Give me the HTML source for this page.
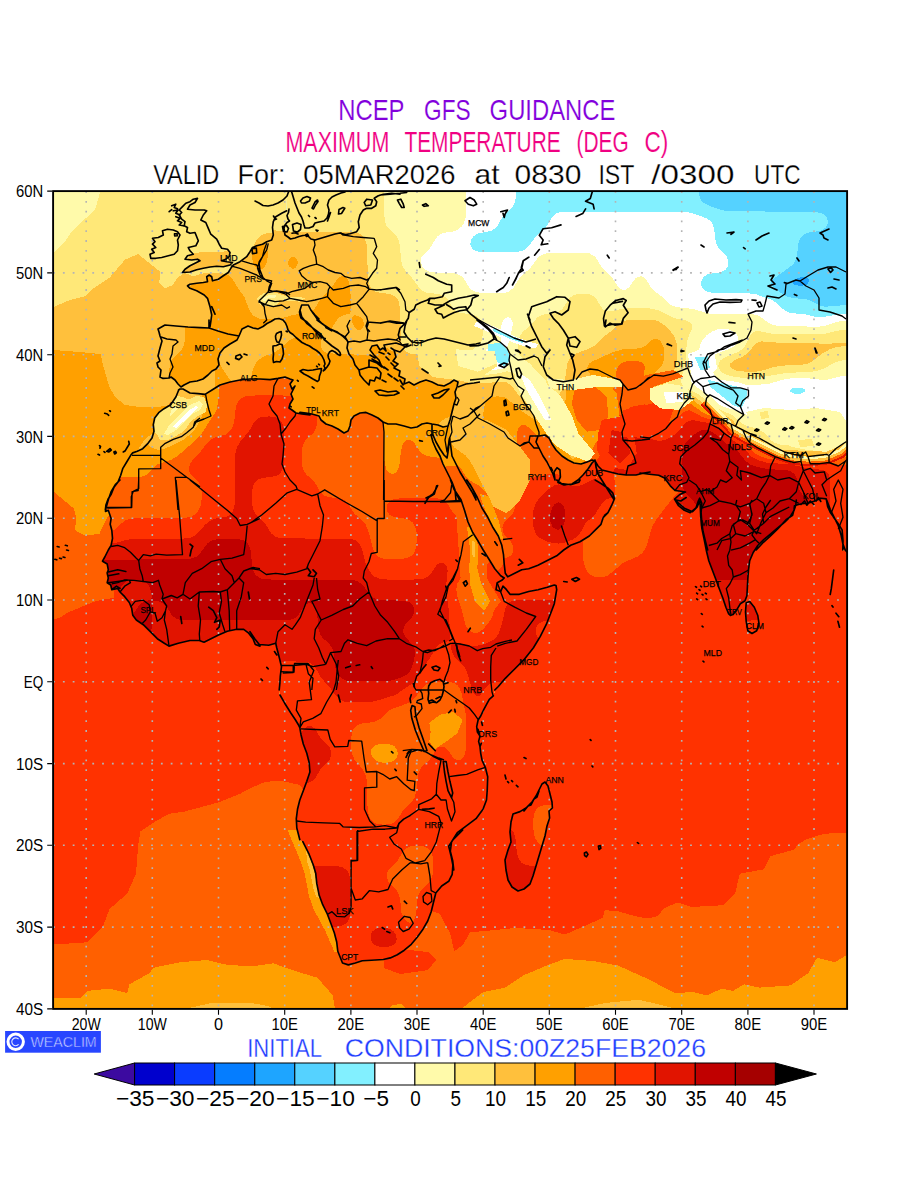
<!DOCTYPE html>
<html lang="en"><head><meta charset="utf-8"><title>NCEP GFS GUIDANCE - Maximum Temperature</title>
<style>
html,body{margin:0;padding:0;background:#fff;}
body{width:900px;height:1200px;overflow:hidden;font-family:"Liberation Sans",sans-serif;}
svg{display:block}
text{font-family:"Liberation Sans",sans-serif;}
.ax{font-size:17.2px;fill:#000}
.cb{font-size:22.4px;fill:#000}
.t1{font-size:29.2px;stroke:#fff;stroke-width:0.15px;paint-order:fill stroke}
.t2{font-size:27.8px;stroke:#fff;stroke-width:0.25px;paint-order:fill stroke}
.t3{font-size:26.4px;stroke:#fff;stroke-width:0.3px;paint-order:fill stroke}
.wc{font-size:15.4px;stroke:#2846ff;stroke-width:0.55px;paint-order:fill stroke}
.st{font-size:9.9px;fill:#000;stroke:#000;stroke-width:0.25px}
</style></head><body>
<svg width="900" height="1200" viewBox="0 0 900 1200">
<defs><clipPath id="mapclip"><rect x="53.1" y="191.1" width="794.0" height="817.8"/></clipPath></defs>
<g clip-path="url(#mapclip)" shape-rendering="crispEdges">
<rect x="52.1" y="190.1" width="796.0" height="819.8" fill="#fffaaa"/>
<path fill="#ffe878" fill-rule="evenodd" d="M102.7,171.9 862.6,171.9 862.6,1028.1 37.6,1028.1 37.6,252.4 52.1,251.8 58.3,250.3 61.8,248.6 68.0,243.5 81.1,228.2 95.0,210.3 99.3,202.6 101.9,192.4Z"/>
<path fill="#ffc03c" fill-rule="evenodd" d="M400.5,171.9 862.6,171.9 862.6,1028.1 37.6,1028.1 37.6,313.7 52.1,313.1 60.3,310.7 65.5,307.4 76.9,297.4 81.0,295.2 91.4,291.4 95.5,289.2 101.7,283.8 122.4,260.0 127.4,256.3 132.7,254.5 136.8,254.3 141.0,255.3 146.1,258.8 149.5,263.9 154.2,279.3 157.5,285.7 159.6,287.9 163.7,290.5 169.9,291.5 174.1,290.8 178.2,289.0 193.1,276.7 196.8,275.0 203.0,273.4 213.3,272.7 221.6,273.2 227.8,275.0 240.2,280.8 244.4,280.8 246.7,279.3 249.4,274.2 250.6,269.0 252.5,251.2 254.7,243.1 256.8,239.6 258.8,237.3 263.0,234.5 267.1,233.1 273.3,232.3 279.5,232.3 285.7,233.0 289.9,234.1 296.1,237.6 308.5,248.3 314.7,251.0 320.9,252.0 327.1,252.2 333.3,251.8 339.5,250.3 345.7,246.9 354.0,239.2 358.5,235.8 362.2,233.9 372.6,230.1 376.7,227.9 382.3,223.0 390.8,212.8 395.9,205.2 398.7,197.5 400.1,187.3ZM165.8,342.7 165.4,345.7 167.9,347.4 169.9,347.3 172.1,345.7 172.1,343.2 169.9,341.5 167.9,341.5Z"/>
<path fill="#ffa000" fill-rule="evenodd" d="M548.2,171.9 862.6,171.9 862.6,1028.1 37.6,1028.1 37.6,354.7 83.1,355.1 89.3,356.4 93.4,358.3 95.5,359.9 97.6,362.2 99.9,366.2 104.5,381.5 106.9,386.6 108.8,389.2 114.1,393.3 124.4,397.4 130.6,401.1 143.0,412.9 154.0,419.8 156.6,422.4 157.5,424.2 157.8,427.5 156.7,430.1 154.1,432.6 145.1,438.7 141.4,442.8 138.8,447.9 137.6,453.1 137.5,460.7 139.3,468.4 141.9,473.5 147.6,481.2 154.1,488.8 159.6,493.9 167.1,499.1 176.1,503.3 182.3,504.9 192.7,505.6 205.1,505.2 213.3,503.6 217.4,501.6 219.7,499.1 220.4,496.5 220.2,493.9 216.9,486.3 206.5,470.9 204.4,465.8 203.2,460.7 202.0,445.4 202.1,396.8 202.6,378.9 204.4,355.9 204.2,335.5 204.8,327.8 206.3,322.7 208.9,317.6 215.4,309.7 219.6,306.6 223.7,305.4 225.8,305.8 227.8,307.0 229.9,309.4 231.3,312.5 232.1,317.6 231.5,322.7 229.7,327.8 222.0,340.6 219.8,345.7 218.5,350.8 218.5,358.5 219.9,363.6 222.3,368.7 231.3,381.5 234.0,386.6 238.2,397.2 240.2,400.5 242.3,402.0 244.4,402.0 246.4,400.1 248.0,396.8 252.5,371.3 254.3,366.2 256.8,362.0 258.8,359.8 263.0,356.9 273.3,352.8 277.4,350.6 289.9,339.9 296.1,336.7 302.3,335.9 308.5,337.4 313.5,340.6 325.0,350.5 329.1,352.5 335.3,354.0 345.7,354.4 354.0,353.2 360.2,350.7 370.5,343.9 374.6,342.6 376.7,342.6 380.8,343.9 391.2,350.7 395.3,352.6 399.4,353.7 411.8,354.4 418.1,353.7 422.2,352.5 426.3,350.5 430.5,347.2 444.9,330.5 496.6,266.7 529.7,224.4 542.0,205.2 545.6,197.5 547.7,187.3ZM449.1,417.2 444.9,418.6 440.8,421.5 438.7,424.0 437.0,427.5 435.9,432.6 436.4,437.7 438.7,442.4 440.8,444.3 444.9,446.4 449.1,447.3 455.3,447.9 461.5,447.7 469.7,445.6 473.9,442.9 476.5,440.3 481.3,432.6 482.9,427.5 482.9,424.9 482.2,422.4 480.1,419.8 475.9,417.6 469.7,416.5 457.3,416.2Z"/>
<path fill="#ff6000" fill-rule="evenodd" d="M567.0,171.9 862.6,171.9 862.6,968.0 823.3,968.1 813.0,969.0 808.8,970.1 804.7,972.2 792.3,982.9 786.1,986.3 777.8,988.0 763.4,988.4 678.6,988.4 666.2,987.8 660.0,986.3 655.8,984.3 643.4,973.6 639.3,971.0 635.2,969.5 629.0,968.4 550.4,968.0 533.8,968.7 527.6,970.2 523.5,972.2 511.1,982.9 504.9,986.3 498.7,987.8 482.1,989.6 478.0,991.0 473.9,993.7 471.8,996.0 469.7,999.6 468.0,1005.1 467.0,1012.7 466.7,1028.1 334.3,1028.1 334.0,1012.7 333.1,1005.1 331.2,998.1 328.3,992.3 318.8,980.0 312.6,973.7 306.4,970.2 298.1,968.4 275.4,968.0 184.4,968.0 172.0,968.4 165.8,969.5 161.7,971.0 157.5,973.6 145.1,984.3 141.0,986.3 134.8,987.8 122.4,988.4 37.6,988.5 37.6,497.8 47.9,498.1 54.1,498.9 58.3,500.3 62.4,503.0 64.5,505.3 66.8,509.3 71.5,524.6 73.9,529.7 76.0,532.3 78.9,534.6 83.1,535.9 87.2,535.6 91.4,533.4 95.5,528.6 101.5,519.5 105.8,515.2 112.0,511.9 118.2,510.4 128.6,509.8 143.0,510.3 155.5,512.2 178.2,517.3 186.5,518.0 200.9,518.2 215.4,517.8 224.4,516.9 232.0,515.3 246.4,511.1 252.6,510.1 277.4,509.7 287.8,510.6 296.1,513.3 300.2,516.0 312.6,526.7 329.1,533.7 333.3,536.4 342.9,545.1 347.7,547.8 351.9,548.9 358.1,548.7 362.4,547.6 367.4,545.1 372.6,541.1 378.7,534.8 420.1,483.6 430.0,473.5 436.7,469.1 442.9,466.9 450.5,465.8 467.7,464.9 473.9,463.5 478.0,461.8 482.1,459.0 486.3,455.1 496.1,442.8 499.5,437.7 502.7,430.1 503.8,422.4 503.4,414.7 501.0,396.8 501.3,391.7 502.3,386.6 504.9,380.3 511.8,368.7 514.5,361.0 515.8,353.4 516.8,335.5 518.0,327.8 520.8,320.2 528.3,307.4 531.1,299.7 532.3,292.0 533.7,271.6 535.5,263.9 538.0,258.3 546.2,244.5 552.8,225.6 562.3,207.7 564.3,202.6 566.4,192.4ZM316.7,895.0 315.3,897.7 316.7,898.7 318.8,898.7 320.1,897.7 319.0,895.2Z"/>
<path fill="#ff3200" fill-rule="evenodd" d="M764.4,171.9 862.6,171.9 862.6,845.3 790.2,845.4 782.0,846.0 775.8,847.5 769.6,850.9 757.2,861.7 753.0,863.9 742.7,868.0 738.5,870.9 736.5,873.2 734.1,877.3 729.5,892.6 727.1,897.7 725.2,900.3 722.0,903.0 715.8,905.5 703.4,906.6 629.0,906.7 616.6,907.3 610.3,908.8 606.8,910.5 603.1,913.1 595.9,919.8 591.7,923.0 587.6,925.0 583.5,926.1 571.1,927.0 486.3,927.5 478.0,929.1 473.8,931.0 463.5,937.0 459.4,937.6 456.3,936.1 454.1,933.5 452.9,931.0 451.5,925.8 450.5,915.6 449.5,887.5 448.1,879.8 445.9,874.7 444.0,872.2 440.8,869.3 424.3,861.7 409.8,849.6 403.6,847.3 399.4,847.1 395.3,847.8 389.1,851.0 379.8,859.4 376.2,862.0 370.5,864.3 364.3,865.4 343.6,865.5 322.9,863.7 318.8,862.8 314.7,861.2 312.2,859.4 310.5,857.1 309.6,854.3 309.6,851.7 310.1,849.2 312.3,844.1 320.9,831.3 337.4,811.2 341.5,807.3 347.7,803.8 354.0,802.3 366.1,800.6 370.5,798.3 372.3,795.5 372.3,792.9 370.5,790.2 366.4,787.9 362.2,787.2 325.0,784.4 283.6,784.0 269.2,784.7 263.0,786.1 258.8,788.1 246.4,798.9 242.3,801.4 238.2,803.0 227.8,804.3 190.6,804.7 184.4,805.4 180.3,806.6 174.1,810.0 161.7,820.8 145.1,828.4 141.0,832.4 137.8,839.0 136.4,846.6 134.6,869.6 133.4,874.7 131.2,879.8 128.1,885.0 116.2,900.5 85.1,938.0 78.9,943.4 74.8,945.4 70.7,946.6 60.3,947.5 37.6,947.5 37.6,620.4 52.1,619.8 60.3,617.4 65.5,614.1 76.9,604.1 81.0,601.9 93.4,597.1 97.6,594.4 101.7,590.4 112.0,577.5 114.6,573.2 116.7,568.1 117.7,562.9 118.1,557.8 116.2,539.9 117.2,534.8 118.7,532.3 121.9,529.7 126.5,528.2 138.9,527.0 153.4,527.3 178.2,530.1 190.6,530.6 221.6,530.3 246.4,527.5 256.8,526.9 277.4,527.1 285.7,528.5 291.9,531.7 302.3,540.9 306.4,543.7 322.9,550.6 335.3,561.4 339.5,564.0 345.7,566.4 362.2,570.4 366.4,572.5 370.5,575.5 375.8,580.8 379.3,585.9 382.4,593.6 385.8,606.4 389.1,612.9 391.2,615.2 395.3,617.9 399.4,619.3 403.6,619.9 416.0,619.8 424.3,617.4 429.4,614.1 440.8,604.1 459.4,595.9 473.9,583.6 478.0,581.4 488.4,577.7 492.5,575.5 496.6,572.1 500.4,568.1 521.4,542.3 535.9,525.7 542.1,521.3 548.3,519.2 558.7,518.3 581.4,518.4 582.3,519.5 582.4,522.1 582.8,555.3 583.8,562.9 585.5,568.3 587.6,571.9 589.7,574.1 591.8,575.7 595.9,577.3 602.1,577.5 608.3,575.3 622.8,563.2 626.9,561.0 637.2,556.8 642.6,552.7 644.4,550.2 646.8,545.1 651.9,527.2 656.3,519.5 668.2,504.0 728.3,430.1 740.1,414.7 744.5,407.1 746.7,399.4 747.7,386.6 747.9,269.0 748.4,253.7 749.6,246.0 751.2,240.9 759.9,225.6 762.0,220.5 763.2,215.4 764.3,202.6ZM606.1,450.5 608.3,450.5 610.3,452.3 612.4,457.3 613.4,463.3 615.1,488.8 614.8,496.5 613.4,504.2 610.3,510.5 608.3,512.8 604.1,515.6 595.9,517.6 583.5,517.9 582.7,516.9 582.6,514.4 582.9,501.6 583.7,493.9 585.0,488.8 588.5,481.2 596.8,468.4 602.1,455.3 604.1,451.9ZM376.8,910.5 380.8,908.9 385.0,908.5 389.1,909.2 393.2,911.0 397.4,914.2 401.1,918.2 407.7,926.4 411.8,932.6 413.5,936.1 415.0,941.2 415.5,946.3 415.2,951.4 413.9,956.3 412.6,959.1 410.7,961.6 407.7,964.1 403.6,965.8 399.4,966.2 395.3,965.5 391.2,963.7 385.0,958.4 373.5,943.7 370.0,936.1 369.1,931.0 368.9,925.8 369.7,920.7 371.8,915.6 373.7,913.1Z"/>
<g><path fill="#ff3200" d="M53.0,776.0 848.0,776.0 848.0,1009.0 53.0,1009.0Z"/><path fill="#ff6000" d="M53.0,944.5 87.4,942.3 102.9,926.8 109.5,909.1 127.2,893.6 136.0,873.7 138.2,845.0 140.4,831.4 153.7,822.5 169.2,813.7 184.7,811.5 217.8,802.6 240.0,793.8 251.0,788.0 265.0,782.0 280.0,780.5 300.0,785.0 340.0,850.0 400.0,900.0 440.0,914.0 450.0,933.4 454.4,951.1 463.3,944.5 469.9,932.3 494.2,930.1 516.3,927.9 549.5,930.1 565.0,934.5 582.7,926.8 602.6,918.0 604.8,910.2 618.0,911.3 638.0,916.9 649.0,918.5 657.8,915.8 664.5,908.0 677.7,902.5 691.0,906.9 715.3,905.8 724.2,904.7 735.2,893.6 739.7,873.7 764.0,869.3 770.6,856.1 794.9,849.4 797.1,845.0 805.0,840.0 817.0,835.8 826.0,833.6 848.0,833.0 848.0,1009.0 53.0,1009.0Z"/><path fill="#ff3200" d="M384.0,953.0 400.0,949.0 428.0,952.0 436.0,960.0 428.0,970.0 400.0,974.0 384.0,968.0Z"/><path fill="#ffa000" d="M53.0,1009.0 54.2,997.6 80.7,997.6 87.4,990.9 109.5,988.7 127.2,993.1 129.4,984.3 149.3,973.2 153.7,967.7 180.2,962.2 206.8,960.0 224.5,964.4 251.0,966.5 273.1,963.3 295.2,971.0 317.3,977.7 332.8,995.4 335.0,1009.0Z"/><path fill="#ffa000" d="M461.0,1009.0 483.2,992.0 505.3,987.6 523.0,975.5 549.5,964.4 565.0,958.9 593.7,961.1 618.0,965.5 649.0,979.5 662.3,986.5 675.5,993.1 693.2,992.0 706.5,995.4 722.0,988.7 733.0,990.9 744.0,984.3 759.6,987.6 790.5,985.4 808.2,973.2 817.0,957.8 834.7,962.2 845.8,955.6 848.0,955.0 848.0,1009.0Z"/><path fill="#ffa000" d="M388.0,1009.0 392.0,1005.0 402.0,1004.0 406.0,1009.0Z"/><path fill="#ffc03c" d="M184.7,1009.0 211.2,1003.0 251.0,1003.0 268.0,1006.0 275.0,1009.0Z"/><path fill="#ffc03c" d="M578.2,1009.0 604.8,1003.0 638.0,999.8 649.0,1002.0 671.0,1007.5 675.0,1009.0Z"/><path fill="#ffe878" d="M53.0,190.0 186.0,190.0 186.0,272.0 184.7,272.9 178.0,277.3 172.5,285.1 164.8,288.4 159.2,282.9 160.3,271.8 149.3,263.0 138.2,254.1 125.0,259.6 109.9,277.3 93.3,288.4 85.2,296.1 76.8,298.3 68.6,300.6 53.0,307.2Z"/><path fill="#fffaaa" d="M53.0,190.0 100.6,190.0 95.1,209.9 85.2,218.7 71.9,231.1 65.3,241.3 58.6,247.9 53.0,253.0Z"/><path fill="#ffc03c" d="M53.0,307.2 68.6,300.6 76.8,298.3 85.2,296.1 93.3,288.4 109.9,277.3 125.0,259.6 138.2,254.1 149.3,263.0 160.3,271.8 159.2,282.9 164.8,288.4 172.5,285.1 178.0,277.3 184.7,272.9 215.0,285.0 215.0,407.0 158.1,407.1 140.0,407.0 125.0,404.9 116.0,398.0 109.5,387.2 102.9,365.0 100.6,354.0 80.0,352.0 53.0,350.0Z"/><path fill="#ffa000" d="M53.0,350.0 80.0,352.0 100.6,354.0 102.9,365.0 109.5,387.2 116.0,398.0 125.0,404.9 140.0,407.0 158.1,407.1 170.0,405.0 130.0,460.0 112.0,515.0 107.3,517.0 104.0,523.6 99.5,533.6 85.2,535.8 75.2,530.3 76.0,517.0 74.1,508.8 53.0,491.1Z"/><path fill="#ff6000" d="M53.0,491.1 74.1,508.8 76.0,517.0 75.2,530.3 85.2,535.8 99.5,533.6 104.0,523.6 107.3,517.0 114.0,517.0 114.0,598.0 107.3,598.8 96.2,601.0 85.2,605.4 74.1,609.9 63.1,614.3 53.0,614.3Z"/><path fill="#ffa000" d="M297.0,830.0 302.8,841.7 308.7,853.3 313.3,865.0 315.7,873.2 316.8,883.7 319.2,895.3 322.7,904.7 327.3,914.0 330.8,923.3 334.3,932.7 336.7,942.0 337.8,951.3 334.8,952.5 330.1,942.0 325.0,930.3 319.2,919.8 313.3,908.2 309.1,896.5 306.8,884.8 304.5,873.2 301.2,862.7 296.5,851.0 291.2,839.3 287.7,830.0Z"/><path fill="#ffc03c" d="M306.3,851.0 310.5,860.3 313.8,869.7 315.7,879.0 317.1,888.3 318.9,897.7 316.1,896.5 313.3,888.3 311.5,879.0 309.6,869.7 306.8,860.3Z"/></g>
<clipPath id="landclip"><path clip-rule="evenodd" d="M183.0,389.0 180.0,389.0 178.6,390.0 178.7,390.0 176.0,396.7 170.7,404.7 164.0,408.7 158.7,412.7 154.7,418.0 153.3,424.7 154.0,431.3 152.0,438.0 148.0,443.3 142.7,448.7 137.3,451.3 132.7,452.9 130.7,455.3 126.7,462.0 122.7,468.7 120.7,475.3 118.0,482.0 115.3,484.7 111.1,491.7 108.3,499.8 106.0,508.0 105.5,511.5 108.3,510.3 111.1,518.5 110.2,524.3 111.8,530.2 112.5,538.3 111.1,545.3 108.3,550.0 104.8,557.0 102.5,561.2 107.2,564.0 108.3,569.8 107.2,573.3 108.3,578.0 107.2,582.7 110.7,585.0 111.8,589.7 117.7,588.5 120.0,592.0 124.7,596.7 129.3,602.5 131.7,608.3 132.8,615.3 136.3,620.0 143.3,624.7 150.3,631.7 157.3,638.7 164.3,643.3 169.0,646.1 178.3,643.3 190.0,640.5 199.3,640.5 204.0,642.2 211.0,638.7 218.0,635.2 227.3,631.2 236.7,629.3 243.7,629.3 248.3,632.8 253.0,638.7 255.3,644.5 260.0,646.1 259.3,644.5 268.7,645.2 275.7,643.3 276.8,648.0 279.2,657.3 281.5,666.7 280.3,676.0 279.9,683.0 279.2,690.0 280.0,695.0 284.7,703.2 290.5,712.5 295.2,719.5 298.7,725.3 299.8,727.7 301.0,734.7 303.3,744.0 306.8,753.3 309.2,762.7 309.9,772.0 306.8,781.3 303.3,790.7 299.8,800.0 297.5,809.3 296.3,818.7 296.8,828.0 299.8,839.7 302.8,841.7 308.7,853.3 313.3,865.0 315.7,873.2 316.8,883.7 319.2,895.3 322.7,904.7 327.3,914.0 330.8,923.3 334.3,932.7 336.7,942.0 337.8,951.3 340.2,957.2 342.5,963.0 348.3,964.9 355.3,963.0 362.3,960.7 371.7,960.2 383.3,959.5 390.3,957.9 397.3,954.8 404.3,950.2 411.3,944.3 417.2,937.3 423.0,929.2 427.7,921.0 431.2,911.7 433.5,902.3 435.8,893.0 441.7,886.0 448.7,881.3 452.2,874.3 452.9,865.0 451.0,855.7 448.7,846.3 453.3,839.3 460.3,832.3 462.7,830.0 457.3,832.7 466.7,825.7 476.0,818.7 483.0,809.3 486.5,800.0 487.2,790.7 487.7,776.7 485.3,767.3 482.1,760.3 480.7,753.3 480.0,746.6 478.6,741.4 480.0,736.1 477.4,732.1 476.7,726.7 478.1,720.0 480.7,716.0 483.2,710.6 486.7,704.1 489.3,699.4 493.3,695.9 494.8,690.0 498.3,686.5 505.3,678.3 514.7,669.0 524.0,659.7 533.3,648.0 540.3,636.3 546.2,624.7 550.8,613.0 554.3,603.7 555.5,596.7 556.7,589.7 556.0,585.5 554.3,585.0 547.3,587.3 538.0,589.7 528.7,591.5 519.3,594.3 510.0,594.3 506.5,589.7 503.0,586.2 500.7,591.5 496.0,589.7 497.2,582.7 501.8,580.3 504.2,578.0 500.7,575.7 494.8,568.7 489.0,559.3 483.2,550.0 478.5,541.8 472.7,532.5 468.0,522.0 464.5,510.3 461.0,499.8 454.0,489.3 450.5,480.0 452.0,482.0 447.0,472.0 443.0,464.0 440.0,456.0 436.0,449.0 433.0,442.0 431.0,435.0 432.0,424.0 427.0,423.0 422.0,424.0 417.0,427.0 411.0,428.0 404.0,426.0 396.0,424.0 388.0,424.0 383.0,422.0 378.0,418.0 372.0,415.0 366.0,412.4 360.0,413.0 354.0,416.0 351.0,420.0 350.0,426.0 348.0,431.0 344.0,433.0 338.0,429.0 332.0,426.0 326.0,424.0 321.0,420.0 319.0,416.0 312.0,414.0 306.0,413.0 300.0,412.4 302.0,414.0 296.0,413.0 292.0,410.0 289.0,408.0 290.0,404.0 293.0,399.0 291.0,394.0 295.0,386.0 292.0,389.0 290.0,384.0 293.0,380.0 290.0,379.0 285.0,377.0 278.0,378.4 270.0,379.6 260.0,379.0 250.0,379.0 240.0,380.0 230.0,382.0 220.0,385.0 212.0,390.0 205.0,394.4 198.0,393.6 190.0,393.0ZM433.0,435.0 436.0,442.0 440.0,449.0 444.0,455.0 447.0,458.0 448.0,452.0 449.0,444.0 449.6,438.0 451.0,448.0 452.0,456.0 456.0,464.0 460.0,472.0 466.0,482.0 466.8,480.0 471.5,487.0 477.3,497.5 482.0,508.0 487.8,517.3 492.5,526.7 498.3,536.0 501.8,545.3 503.5,554.7 504.2,564.0 505.3,573.3 507.7,576.8 514.7,573.3 521.7,569.8 528.7,568.7 538.0,565.2 547.3,560.5 556.7,555.8 563.7,550.0 570.7,545.3 580.0,541.8 589.3,536.0 595.2,530.2 601.0,524.3 603.3,517.3 608.0,512.7 611.5,505.7 614.5,498.7 612.7,492.8 608.0,488.2 601.0,483.5 595.2,480.0 598.0,474.0 596.0,467.0 595.2,461.3 598.0,466.0 602.0,470.0 610.0,472.0 618.0,474.0 626.0,475.0 636.0,475.0 642.7,473.3 649.3,474.2 658.7,475.3 664.5,478.1 670.3,485.8 675.0,490.5 680.8,491.2 685.5,492.1 679.7,494.5 674.5,499.1 678.5,505.7 684.3,510.3 690.2,512.7 696.0,508.0 698.3,501.0 699.7,498.2 701.8,503.3 701.1,512.7 701.8,522.0 701.8,528.0 704.2,539.7 706.5,551.3 708.8,560.7 712.3,570.0 715.8,579.3 719.3,588.7 722.8,598.0 725.9,607.3 728.7,613.9 730.5,615.5 733.3,614.3 736.8,609.7 740.3,603.8 745.0,600.8 746.9,595.7 747.3,588.7 747.8,579.3 748.5,570.0 749.7,560.7 753.2,552.5 757.8,545.5 763.7,539.7 770.7,533.8 777.7,528.0 784.7,522.2 790.5,516.3 794.0,510.5 795.9,504.7 796.3,500.0 797.7,504.7 801.7,503.8 808.0,503.3 815.0,501.0 820.8,498.2 826.2,498.9 827.6,506.4 830.2,512.2 833.4,516.9 837.9,523.2 842.1,529.9 843.0,540.7 842.8,550.0 848.0,552.0 848.0,189.0 286.0,189.0 286.7,210.8 281.7,213.3 275.8,216.7 273.3,221.7 272.5,227.5 273.3,235.0 271.7,240.0 266.7,241.7 262.5,244.2 256.7,245.8 252.5,247.5 250.0,251.7 246.7,256.7 240.0,261.7 233.3,265.0 230.8,268.3 228.3,272.5 223.3,275.8 218.3,279.2 212.5,280.8 211.7,276.7 209.2,275.0 206.7,276.7 207.5,281.7 203.3,282.5 196.7,283.3 190.0,284.2 187.5,285.8 190.0,288.3 196.7,290.8 204.2,295.0 207.5,298.3 210.0,306.7 211.7,315.0 210.8,321.7 210.0,327.0 209.0,328.0 200.0,327.6 188.0,327.0 176.0,326.0 165.0,325.0 158.0,329.0 159.0,332.0 160.0,336.0 162.0,341.0 160.0,348.0 158.0,356.0 160.0,361.0 157.0,363.0 158.0,367.0 161.0,370.0 160.0,377.0 163.0,378.4 169.0,378.0 171.0,377.0 175.0,380.0 178.0,384.0 181.0,387.0 184.0,385.0 190.0,382.0 197.0,381.0 203.0,379.0 208.0,375.0 212.0,371.0 216.0,369.0 219.0,365.0 218.0,359.0 220.0,353.0 224.0,348.0 230.0,344.0 237.0,340.0 239.0,336.0 242.0,329.0 248.0,326.0 253.0,328.0 258.0,329.0 259.0,328.5 263.0,326.5 267.0,323.5 271.0,321.5 275.0,319.0 279.0,318.5 283.0,320.0 285.5,323.0 287.0,326.5 288.0,330.0 290.0,332.5 293.0,334.5 296.0,337.5 299.0,340.0 302.0,342.5 306.0,344.5 309.5,346.0 313.0,348.5 316.5,350.5 319.5,353.0 322.0,356.0 324.0,360.0 325.0,364.0 324.0,366.0 325.0,368.0 324.0,370.0 323.3,370.8 325.0,369.5 327.0,367.0 329.0,364.0 330.0,361.0 328.5,358.0 328.0,355.0 329.5,352.0 332.0,350.5 335.0,352.0 338.0,354.5 340.0,355.5 340.6,354.8 340.0,352.5 338.0,350.0 335.0,348.0 332.0,346.0 329.0,343.5 326.0,341.0 324.0,339.5 325.2,338.6 322.0,337.5 319.0,335.0 316.0,332.0 313.0,328.5 310.0,325.0 307.0,322.0 304.0,320.0 301.0,318.0 300.0,315.0 299.5,312.0 300.0,310.0 301.7,305.0 308.3,305.0 310.8,310.0 313.3,313.3 316.7,318.3 321.7,323.3 328.3,328.3 330.0,329.0 338.0,333.0 345.0,337.0 348.0,342.0 347.0,348.0 349.0,354.0 353.0,359.0 355.0,365.0 359.0,370.0 360.0,375.0 364.0,380.0 369.0,385.0 370.0,380.0 374.4,381.0 376.0,377.0 380.0,379.0 381.0,373.0 377.0,368.0 369.0,367.0 369.0,360.0 377.0,363.0 382.0,367.0 379.0,360.0 374.0,355.0 370.0,350.0 372.0,346.0 377.0,345.0 380.0,350.0 383.0,348.0 386.0,351.0 384.0,345.0 390.0,344.0 396.0,343.0 402.0,345.0 408.0,344.0 404.0,348.0 400.0,352.0 394.0,350.0 396.0,357.0 393.0,361.0 398.0,364.0 394.0,368.0 400.0,371.0 399.0,376.0 405.0,379.0 404.0,384.0 409.0,382.0 414.0,385.0 420.0,382.0 426.0,380.0 432.0,382.0 438.0,385.0 444.0,386.0 450.0,383.0 454.0,380.0 458.0,382.0 457.0,387.0 455.0,392.0 456.0,398.0 454.0,404.0 452.0,412.0 450.0,420.0 448.0,426.0 443.0,427.0 438.0,425.0 432.0,424.0 432.0,435.0ZM594.2,460.8 592.0,463.0 588.0,469.0 583.0,475.0 578.0,480.0 572.0,484.0 564.0,485.0 558.0,482.4 560.4,477.0 560.0,470.0 557.0,467.6 554.0,472.0 555.0,480.0 553.0,474.0 550.0,468.0 547.0,462.0 543.0,456.0 539.0,448.0 536.0,442.0 538.0,436.0 539.0,436.0 545.0,435.0 549.0,438.0 552.0,444.0 556.0,450.0 562.0,456.0 568.0,460.0 574.0,463.0 581.0,464.0 587.0,462.0 592.0,460.0ZM197.5,198.3 195.0,202.5 190.0,205.0 187.5,209.2 195.0,210.0 204.2,210.0 206.7,210.8 203.3,215.0 200.8,220.0 205.8,222.5 208.3,228.3 210.8,234.2 216.7,239.2 219.2,244.2 221.7,248.3 227.5,249.2 230.0,252.5 229.2,256.7 225.8,259.2 221.7,260.8 226.7,261.7 232.5,262.5 230.0,265.0 223.3,266.7 216.7,266.3 210.0,267.0 203.3,268.3 196.7,269.7 190.0,272.0 182.5,272.5 185.0,269.2 190.0,265.8 195.0,263.3 200.0,260.8 197.5,259.2 191.7,260.0 185.0,259.2 187.5,255.8 193.3,254.2 190.0,250.8 188.3,247.5 195.8,245.8 198.3,240.8 196.7,236.7 195.0,232.5 190.0,233.3 186.7,231.7 187.5,227.5 184.2,225.8 185.0,221.7 181.7,219.2 179.2,215.0 181.7,212.5 179.2,210.0 182.5,206.7 185.8,203.3 190.0,201.7 193.3,199.2ZM152.5,238.3 158.3,237.5 163.3,235.0 162.5,230.8 167.5,229.2 173.3,230.0 177.5,231.7 180.0,235.0 177.5,240.0 178.3,245.0 177.5,250.8 174.2,254.2 168.3,255.8 161.7,257.5 155.8,258.3 150.8,258.3 150.0,254.2 154.2,252.5 151.7,249.2 155.8,247.5 152.5,244.2 155.0,241.7ZM545.0,782.0 548.0,786.0 550.0,794.0 552.0,802.0 552.4,808.0 549.0,811.0 549.6,818.0 547.0,826.0 545.0,836.0 542.0,846.0 539.0,856.0 536.0,866.0 533.0,876.0 530.0,884.0 524.0,889.0 518.0,891.0 512.0,887.0 508.0,880.0 506.0,870.0 505.0,860.0 508.0,850.0 511.0,842.0 510.0,832.0 511.0,822.0 513.0,814.0 520.0,811.6 526.0,808.0 532.0,802.0 536.0,796.0 539.0,790.0 542.0,784.0ZM746.2,602.7 749.7,601.5 754.3,607.3 757.8,615.5 759.0,623.7 756.7,630.7 752.0,633.5 747.8,630.7 746.2,621.3 745.5,612.0Z"/></clipPath>
<g clip-path="url(#landclip)">
<rect x="52.1" y="190.1" width="796.0" height="819.8" fill="#1ea5ff"/>
<path fill="#55d2ff" fill-rule="evenodd" d="M37.6,171.9 862.6,171.9 862.6,1028.1 37.6,1028.1ZM802.6,276.5 795.4,279.3 792.5,281.8 793.4,284.4 796.4,285.4 800.6,285.8 804.7,285.3 807.1,284.4 809.0,281.8 808.8,279.3 806.8,277.1Z"/>
<path fill="#82f0ff" fill-rule="evenodd" d="M37.6,171.9 698.2,171.9 698.4,189.8 699.7,197.5 700.9,200.0 703.1,202.6 709.6,205.9 722.0,210.1 728.2,211.3 813.0,211.8 820.8,212.8 825.2,215.4 826.9,217.9 827.7,220.5 827.5,223.8 825.4,227.9 820.8,230.7 806.8,232.9 802.1,235.8 800.2,238.4 798.5,242.9 796.9,256.3 795.1,261.4 793.3,263.9 790.5,266.5 772.7,279.3 771.3,281.8 771.5,284.4 773.2,286.9 779.5,292.0 786.1,296.1 792.3,298.0 804.7,299.1 808.8,300.0 821.3,306.1 825.4,306.7 839.9,305.5 862.6,305.3 862.6,1028.1 37.6,1028.1Z"/>
<path fill="#ffffff" fill-rule="evenodd" d="M37.6,171.9 516.3,171.9 516.0,194.9 515.4,200.0 513.7,205.2 511.1,208.8 502.8,216.5 497.5,225.6 494.6,228.9 490.4,231.1 478.0,233.4 473.9,235.9 471.8,238.4 470.3,243.5 470.7,246.0 471.8,248.0 473.9,249.9 478.0,251.5 482.1,252.0 502.8,252.4 517.3,252.0 523.5,250.4 528.8,246.0 536.3,235.8 545.3,228.2 551.6,217.9 553.8,215.4 556.6,213.4 560.7,212.1 577.3,211.5 676.5,211.6 686.9,212.1 693.1,213.6 705.6,217.9 709.6,220.3 711.7,222.5 714.0,228.2 715.6,240.9 717.3,246.0 719.9,249.8 726.5,256.3 728.2,260.1 728.5,263.9 727.7,266.5 726.1,269.0 724.1,270.7 719.9,272.3 707.9,274.2 703.4,276.9 701.3,281.1 701.1,284.4 701.9,286.9 703.4,289.2 705.5,290.8 709.6,292.3 713.7,292.8 746.8,293.2 755.1,294.0 771.6,299.8 775.8,302.3 784.0,309.9 788.2,312.2 792.3,313.2 804.7,314.3 817.1,317.1 823.3,317.1 839.9,314.0 862.6,313.6 862.6,1028.1 37.6,1028.1ZM792.3,388.5 790.7,389.2 790.2,391.7 794.4,393.6 800.6,393.6 804.8,391.7 804.6,389.2 802.6,388.4 796.4,387.7Z"/>
<path fill="#fffaaa" fill-rule="evenodd" d="M37.6,171.9 466.6,171.9 466.4,212.8 465.7,217.9 463.9,223.0 461.5,226.6 457.3,230.0 453.2,231.4 442.9,233.1 438.0,235.8 435.8,238.4 430.5,247.5 422.0,256.3 420.9,258.8 420.6,261.4 422.2,266.5 424.4,269.0 428.4,271.4 434.6,272.5 453.2,273.1 459.4,274.8 463.5,278.1 469.7,288.0 471.8,290.0 475.7,292.0 482.1,293.1 498.7,293.4 504.9,292.9 509.0,291.5 513.2,288.1 520.4,276.7 529.7,268.7 538.0,257.6 540.0,255.8 544.2,253.7 552.5,252.6 583.5,252.6 589.7,253.5 594.5,256.3 596.7,258.8 602.1,267.9 611.6,276.7 618.3,286.9 620.7,289.0 622.8,289.8 624.8,289.8 626.9,289.0 629.4,286.9 635.2,278.7 638.1,276.7 641.4,276.3 643.4,277.1 645.5,278.8 650.7,286.9 653.8,290.5 662.0,296.8 670.3,304.6 676.5,307.2 693.1,308.9 705.5,312.7 711.7,314.0 724.1,314.4 748.9,314.0 755.1,314.6 759.2,316.1 769.6,323.5 774.1,325.3 779.9,326.1 819.2,326.7 825.4,325.7 835.7,322.2 839.9,321.4 862.6,320.9 862.6,375.5 841.9,375.9 827.5,379.6 823.3,380.0 806.8,378.2 790.2,378.4 784.0,379.4 769.6,383.5 757.2,385.0 738.5,384.8 730.3,383.6 724.1,382.1 717.9,378.5 713.8,373.8 711.0,368.7 710.2,366.2 710.1,361.0 711.0,358.5 712.9,355.9 715.8,353.9 730.3,348.6 735.0,345.7 737.2,343.2 738.3,340.6 738.3,338.0 736.5,334.0 732.3,330.8 728.2,329.3 722.0,328.7 717.9,329.3 711.7,331.7 706.4,335.5 702.2,340.6 700.8,343.2 699.3,348.3 698.4,358.5 697.3,363.6 692.6,373.8 691.1,378.9 691.4,381.5 693.0,384.0 695.8,386.6 711.0,396.8 719.9,405.0 724.0,407.1 734.4,409.9 746.8,414.7 765.4,415.9 772.5,417.3 775.8,419.1 777.8,421.1 784.0,430.2 788.2,432.5 790.2,432.5 792.3,431.8 794.4,430.3 800.6,421.9 802.6,420.2 804.7,419.5 806.8,419.5 808.8,420.2 811.3,422.4 816.6,430.1 819.2,432.0 821.3,432.6 825.4,432.1 833.7,429.4 839.9,428.3 862.6,428.0 862.6,1028.1 37.6,1028.1ZM490.4,358.1 484.2,361.0 485.4,363.6 489.4,363.6 493.7,361.0 494.2,358.5 492.5,357.9ZM507.0,317.4 504.9,318.4 502.8,320.6 500.7,327.8 500.8,346.7 501.1,348.3 502.8,350.6 504.9,349.9 507.0,347.3 509.0,341.0 512.8,325.3 512.8,322.7 511.1,318.9 509.0,317.5Z"/>
<path fill="#ffe878" fill-rule="evenodd" d="M37.6,171.9 383.9,171.9 384.0,210.3 384.8,220.5 386.5,225.6 388.2,228.2 396.2,235.8 398.9,240.9 400.0,246.0 401.2,261.4 402.7,266.5 404.1,269.0 413.2,279.3 418.5,286.9 422.2,290.6 426.3,292.5 438.7,294.1 442.9,295.4 447.0,298.6 452.3,307.4 455.3,310.6 459.4,312.7 471.8,314.5 475.9,315.9 478.0,317.2 480.1,319.6 481.5,322.7 482.5,327.8 482.6,335.5 481.6,340.6 480.1,343.6 478.0,345.9 474.1,348.3 463.5,352.2 459.4,354.5 457.4,355.9 455.4,358.5 454.7,361.0 455.1,363.6 456.6,366.2 459.2,368.7 463.5,371.3 471.8,374.0 480.1,374.8 492.5,374.4 507.0,371.4 511.1,371.7 513.2,372.4 517.3,375.9 522.3,384.0 525.6,388.1 531.8,393.4 538.0,400.1 540.0,401.3 542.1,401.1 544.2,398.8 546.5,391.7 547.1,386.6 546.3,381.5 544.2,378.2 536.5,371.3 529.9,363.6 523.5,359.3 520.2,355.9 518.8,353.4 517.6,348.3 517.7,343.2 519.0,338.0 521.4,333.7 523.5,331.3 530.5,325.3 538.0,316.8 542.1,314.8 554.5,313.2 558.7,311.9 562.8,308.5 569.0,298.6 573.1,295.2 579.3,293.7 587.6,293.9 591.7,295.2 594.5,297.2 596.7,299.7 602.1,308.3 604.1,310.1 606.2,311.0 610.3,311.2 620.7,309.1 629.0,308.3 641.4,308.0 651.7,308.6 660.0,310.9 672.4,317.4 676.5,318.7 685.0,320.2 690.8,322.7 692.4,325.3 692.4,327.8 688.0,338.0 686.9,342.5 685.2,363.6 681.1,378.9 681.0,381.5 681.8,384.0 684.8,387.3 699.3,394.9 715.8,407.7 732.3,415.2 742.7,423.9 746.8,425.7 757.2,428.9 763.4,432.0 766.8,435.2 771.0,440.3 774.3,442.8 779.9,444.5 786.1,445.1 818.1,445.4 823.3,444.3 833.7,438.8 839.9,436.9 846.1,436.3 862.6,436.2 862.6,1028.1 37.6,1028.1ZM176.1,407.0 174.1,407.6 171.6,409.6 170.0,414.7 170.6,419.8 172.0,422.3 174.1,423.5 176.1,423.5 178.2,422.3 180.3,418.9 181.3,414.7 181.4,412.2 180.7,409.6 178.2,407.4ZM839.2,330.4 846.1,329.8 862.6,329.7 862.6,360.0 846.1,360.1 839.9,360.7 833.7,363.0 824.1,368.7 815.1,371.3 806.8,372.1 786.1,372.9 763.4,376.8 755.1,377.7 740.6,377.6 730.3,376.1 723.9,373.8 720.7,371.3 719.1,368.7 718.4,366.2 718.6,363.6 719.9,360.8 724.1,357.8 738.5,351.7 742.7,349.0 745.4,345.7 751.0,334.2 753.0,332.3 755.1,331.3 759.2,331.1 769.6,333.3 775.8,334.0 815.1,334.3 825.4,333.6Z"/>
<path fill="#ffc03c" fill-rule="evenodd" d="M241.4,215.4 244.4,214.9 246.4,215.6 248.5,217.0 254.5,223.0 258.8,225.4 279.5,231.4 349.8,232.1 356.0,232.6 360.2,234.0 362.2,235.3 364.3,237.8 366.5,243.5 367.3,251.2 367.7,276.7 368.4,281.8 370.2,286.9 372.6,289.9 376.7,292.2 389.1,293.9 393.2,295.3 395.3,296.7 397.4,299.1 398.9,302.3 400.2,309.9 401.0,340.6 402.1,345.7 403.2,348.3 405.1,350.8 409.8,353.6 422.2,355.2 426.3,356.5 430.5,359.5 436.1,366.2 439.4,368.7 455.3,378.3 461.5,381.0 467.7,382.5 473.9,383.2 484.2,383.0 502.8,381.8 507.0,382.5 511.1,385.4 519.4,395.9 533.2,409.6 536.5,412.2 540.0,414.0 544.2,415.1 548.3,415.5 552.5,414.6 553.6,412.2 555.0,404.5 556.6,399.4 562.4,389.2 564.5,384.0 567.2,363.6 569.0,359.7 572.4,355.9 577.3,353.0 590.0,348.3 594.6,345.7 604.1,336.4 612.2,330.4 618.6,323.8 622.8,321.3 626.8,320.2 631.0,319.8 651.7,319.6 657.9,321.0 664.5,325.3 669.8,330.4 673.9,335.5 676.5,342.7 677.2,353.4 676.5,363.6 674.9,368.7 672.4,373.3 664.6,381.5 663.9,384.0 666.1,386.6 677.8,391.7 688.9,394.3 695.1,396.8 707.5,406.8 711.9,409.6 728.8,417.3 732.0,419.8 738.5,427.1 740.6,428.5 757.2,436.5 769.6,447.5 773.7,449.1 779.9,450.0 817.1,451.0 825.4,449.9 837.8,444.6 841.9,443.6 862.6,443.1 862.6,1028.1 37.6,1028.1 37.6,313.8 114.1,313.8 124.4,313.2 128.6,311.9 131.4,309.9 133.6,307.4 138.9,298.6 143.0,295.2 149.2,293.6 169.9,292.9 174.1,291.5 176.1,290.0 178.4,286.9 180.3,282.0 184.9,263.9 187.4,258.8 190.6,255.3 194.7,253.3 198.9,252.5 223.7,251.7 227.8,250.4 230.3,248.6 232.3,246.0 234.1,240.9 235.6,225.6 236.9,220.5 238.2,217.9ZM267.1,294.3 263.0,295.6 260.9,297.5 260.1,299.7 260.3,302.3 262.1,304.8 265.0,306.2 269.2,306.7 273.3,306.3 277.4,304.5 279.2,302.3 279.5,299.7 278.2,297.2 275.4,295.3 273.3,294.6ZM558.7,419.3 557.5,419.8 556.8,422.4 557.6,424.9 559.4,427.5 562.8,430.0 566.9,431.6 571.1,432.3 573.1,431.7 575.1,430.1 575.4,427.5 573.1,424.4 569.8,422.4 562.8,419.9ZM132.7,396.6 130.6,397.4 128.4,399.4 127.5,401.9 127.5,404.5 128.6,407.4 136.8,416.8 143.4,427.5 147.2,430.3 160.1,435.2 165.8,436.0 172.0,435.9 178.2,434.5 181.8,432.6 184.7,430.1 188.4,424.9 194.1,412.2 194.6,407.1 193.9,404.5 192.7,402.6 188.7,399.4 182.3,397.0 176.1,395.9 165.8,395.6 141.0,395.7ZM756.4,343.2 759.2,341.7 761.3,341.4 775.8,342.5 806.8,342.8 825.4,343.9 841.9,342.9 862.6,342.7 862.6,346.2 844.0,346.2 835.7,347.1 829.5,349.4 823.3,352.9 810.9,362.1 808.0,363.6 804.7,364.4 786.1,365.4 777.8,366.3 771.6,367.7 761.3,370.8 755.1,371.8 740.6,371.4 736.5,370.5 732.0,368.7 729.9,366.2 730.4,363.6 733.2,361.0 742.7,356.5 746.8,353.7Z"/>
<path fill="#ffa000" fill-rule="evenodd" d="M257.5,240.9 260.9,240.8 264.9,243.5 266.4,246.0 267.6,251.2 267.5,258.8 266.3,263.9 264.9,266.5 263.0,268.3 260.9,269.2 258.8,269.2 256.8,268.3 254.9,266.5 253.5,263.9 252.3,258.8 252.2,251.2 253.0,246.0 254.7,242.8ZM289.3,258.8 291.9,256.9 294.0,256.9 296.6,258.8 297.6,261.4 297.7,263.9 296.1,267.2 294.0,268.5 291.9,268.5 289.2,266.5 288.2,263.9 288.2,261.4ZM198.3,274.2 205.1,273.2 219.6,273.2 225.8,274.1 229.9,276.1 232.8,279.3 238.2,288.6 244.4,296.9 249.2,309.9 252.6,314.9 254.7,316.6 258.8,318.5 267.1,319.5 279.5,318.8 294.0,314.7 306.4,313.2 310.5,311.9 314.7,308.6 321.8,297.2 331.2,288.5 337.4,278.8 339.5,277.1 341.5,276.4 343.6,276.4 345.7,277.4 347.7,279.5 348.8,281.8 350.1,286.9 350.8,299.7 350.5,312.5 349.8,313.6 343.6,315.3 339.2,317.6 336.8,320.2 330.4,330.4 322.6,338.0 320.9,341.9 320.6,345.7 321.4,348.3 322.9,350.7 327.1,353.3 331.2,354.2 368.4,354.7 372.6,355.2 376.7,356.6 379.3,358.5 381.2,361.0 382.3,363.6 383.5,368.7 384.8,381.5 386.7,386.6 390.6,391.7 395.3,394.4 403.6,395.5 422.2,395.0 428.4,392.5 434.6,386.4 438.3,384.0 442.1,384.0 444.9,385.5 448.0,389.2 449.5,394.3 450.0,401.9 450.3,435.2 451.5,442.8 452.8,445.4 454.8,447.9 465.6,455.4 473.6,465.8 475.9,467.2 478.0,467.2 480.1,466.0 481.7,463.3 482.4,460.7 483.1,450.5 483.3,414.7 483.7,409.6 484.8,404.5 486.3,401.4 488.4,399.1 492.5,397.1 496.6,396.4 502.8,396.7 507.0,398.4 519.4,409.5 542.1,424.5 545.2,427.5 552.5,436.6 563.0,445.4 565.2,447.9 571.1,457.9 573.1,459.0 575.2,458.1 587.8,437.7 589.9,432.6 590.4,427.5 589.7,424.1 586.8,419.8 574.0,409.6 571.9,407.1 571.1,404.5 571.3,401.9 573.1,398.6 577.3,394.6 589.7,388.4 592.2,386.6 593.9,384.0 594.2,381.5 593.5,378.9 587.9,371.3 587.2,368.7 587.6,366.0 589.2,363.6 593.2,361.0 612.4,352.4 622.8,349.4 637.2,348.5 641.4,347.7 645.6,345.7 651.7,340.0 653.8,338.8 655.8,338.6 657.9,339.2 660.0,340.6 662.0,343.2 663.9,348.3 664.5,353.4 664.2,358.5 662.7,363.6 661.1,366.2 653.8,374.3 651.7,378.5 651.0,381.5 651.4,386.6 652.4,389.2 654.3,391.7 657.9,394.5 664.1,397.0 670.3,398.7 674.4,398.9 686.9,398.2 693.1,400.0 705.5,410.0 727.0,419.8 730.0,422.4 736.4,430.1 738.5,431.6 750.2,437.7 765.4,450.1 771.6,452.7 777.8,453.6 817.1,455.0 827.5,454.1 841.9,450.7 862.6,450.3 862.6,1028.1 37.6,1028.1 37.6,375.1 70.7,375.3 76.9,376.2 81.0,378.3 83.9,381.5 88.4,389.2 91.4,392.4 95.5,394.5 105.8,396.1 110.0,398.0 113.0,401.9 118.2,414.7 120.3,417.4 128.6,425.0 134.6,435.2 136.7,437.7 141.0,441.0 153.4,448.2 157.5,449.7 163.7,449.3 182.3,440.5 192.3,432.6 196.8,426.8 200.3,419.8 203.2,412.2 204.4,407.1 204.3,401.9 202.6,396.8 200.7,394.3 196.8,391.4 192.7,389.8 177.9,386.6 173.0,384.0 171.0,381.5 169.9,378.9 169.2,373.8 169.4,368.7 170.4,363.6 172.0,360.1 174.1,357.4 181.2,350.8 183.9,345.7 185.2,338.0 185.5,312.5 186.6,302.3 191.4,281.8 192.7,279.0 194.7,276.3ZM351.9,317.6 354.0,315.3 356.0,315.4 360.2,316.9 362.2,318.7 364.0,322.7 363.9,325.3 362.2,328.7 360.2,330.0 358.1,330.1 354.8,327.8 352.5,322.7Z"/>
<path fill="#ff6000" fill-rule="evenodd" d="M243.8,355.9 248.5,355.0 256.8,354.7 283.6,354.7 291.9,355.8 296.1,358.0 298.5,361.0 300.3,366.2 301.5,376.4 302.7,381.5 303.9,384.0 306.1,386.6 310.4,389.2 322.9,393.5 329.1,395.0 368.4,395.8 372.6,396.7 376.7,398.9 378.8,400.9 381.2,404.5 383.4,412.2 384.4,460.7 385.9,468.4 387.0,470.7 389.1,472.8 391.2,473.7 393.2,473.7 395.3,472.8 397.4,470.7 399.4,465.4 401.0,450.5 402.3,445.4 403.6,442.9 405.6,440.8 407.7,439.9 409.8,439.9 411.8,440.7 413.9,442.4 420.1,451.7 424.3,455.0 428.4,456.3 442.9,458.3 453.2,462.1 457.3,464.3 461.0,468.4 465.5,476.1 467.7,478.6 471.8,481.6 480.1,486.1 486.3,492.4 490.4,494.5 493.7,493.9 496.6,491.8 503.1,481.2 510.2,473.5 513.6,468.4 515.4,463.3 516.0,458.2 516.9,432.6 518.8,427.5 521.4,425.4 523.5,425.1 525.6,425.5 529.2,427.5 532.0,430.1 542.1,440.3 551.9,453.1 562.7,465.8 566.9,469.9 569.0,471.2 573.1,472.1 577.1,470.9 579.3,469.1 581.7,465.8 585.8,458.2 593.8,446.9 595.9,441.7 597.4,435.2 598.2,427.5 597.6,419.8 595.9,414.9 591.4,407.1 591.7,404.5 594.4,401.9 608.3,394.7 611.5,391.7 614.2,386.6 616.3,371.3 618.3,366.2 620.6,363.6 622.8,362.4 629.0,360.8 637.6,361.0 641.4,362.3 643.4,363.8 644.5,366.2 644.7,368.7 643.3,381.5 644.8,389.2 649.7,396.8 653.8,400.7 657.9,403.6 666.2,408.2 670.3,409.0 674.4,408.2 681.5,404.5 684.8,403.4 688.9,403.4 691.0,404.0 703.4,413.0 720.6,419.8 725.3,422.4 728.1,424.9 734.4,432.6 738.0,435.2 747.3,440.3 758.6,450.5 765.4,454.3 773.7,456.5 808.8,458.6 823.3,458.6 844.0,457.2 862.6,457.1 862.6,1028.1 37.6,1028.1 37.6,456.9 68.6,456.9 76.9,458.0 81.0,460.1 83.1,462.1 88.4,470.9 90.6,473.5 93.4,475.4 97.6,476.7 105.8,477.3 134.8,477.3 141.0,476.8 145.1,475.5 148.2,473.5 153.4,467.7 157.5,464.5 172.0,459.4 178.2,455.5 196.8,439.1 200.5,435.2 213.9,414.7 216.6,409.6 218.2,401.9 219.4,386.6 221.1,381.5 223.7,377.8 232.0,370.1 238.2,359.9 240.2,357.8ZM378.8,744.1 374.6,745.7 373.1,746.9 371.5,749.5 371.1,752.1 371.5,754.6 372.6,757.2 374.6,759.6 378.8,762.1 385.0,763.0 391.2,762.1 395.1,759.7 396.8,757.2 397.6,754.6 397.6,752.1 396.8,749.5 395.1,746.9 393.2,745.5 389.1,744.0 385.0,743.7ZM471.8,588.3 470.4,591.1 470.0,593.6 470.5,598.7 471.8,605.4 473.1,608.9 473.9,610.7 475.9,612.3 478.0,611.6 479.4,608.9 479.9,606.4 479.4,601.3 478.0,594.6 475.9,589.3 473.9,587.7Z"/>
<path fill="#ff3200" fill-rule="evenodd" d="M243.8,396.8 248.5,395.8 256.8,395.4 281.6,395.4 289.9,396.0 294.0,397.0 308.6,401.9 312.6,404.3 314.7,406.5 316.3,409.6 317.4,414.7 317.3,422.4 316.2,427.5 313.5,432.6 305.5,440.3 303.9,442.8 302.2,447.9 301.6,460.7 302.2,465.8 303.9,470.9 306.4,474.5 314.7,482.3 320.0,491.4 322.9,494.6 325.0,495.9 329.1,497.2 341.5,498.8 345.7,501.0 347.7,503.0 354.0,513.2 362.2,520.5 365.6,524.6 368.8,532.3 373.4,550.2 376.3,555.3 378.8,557.2 382.9,558.5 387.0,558.8 401.5,558.8 407.7,557.9 411.8,555.7 413.9,553.3 416.1,547.6 416.8,539.9 416.5,532.3 415.4,527.2 412.4,522.1 407.7,519.2 393.2,516.8 389.3,514.4 387.6,511.8 386.8,509.3 386.8,506.7 387.6,504.2 389.4,501.6 393.2,499.3 401.5,498.2 422.2,497.8 434.6,497.9 440.8,498.9 444.9,501.0 447.0,503.0 453.2,513.0 457.3,516.3 461.5,517.7 473.6,519.5 477.9,522.1 479.6,524.6 480.4,527.2 479.8,532.3 478.0,535.3 471.8,541.3 469.2,545.1 467.6,550.2 466.4,562.9 465.4,568.1 463.2,573.2 457.5,583.4 456.3,588.5 457.1,596.2 461.5,608.7 465.2,624.3 468.0,629.4 471.0,631.9 473.9,633.0 475.9,633.0 479.5,631.9 484.2,628.2 491.1,619.2 492.5,616.3 493.7,611.5 493.4,603.8 488.4,589.2 485.6,575.7 485.2,570.6 486.2,565.5 488.0,562.9 490.4,561.1 494.6,559.7 507.0,557.8 511.0,555.3 512.7,552.7 513.4,550.2 512.8,545.1 511.1,542.0 504.4,534.8 502.8,531.5 502.4,527.2 503.1,524.6 504.5,522.1 511.1,515.6 513.7,511.8 515.3,506.7 517.2,491.4 519.0,486.3 520.6,483.7 523.5,480.7 527.6,478.4 540.0,476.3 550.4,473.7 556.6,473.9 566.9,477.6 571.1,478.6 577.3,478.0 581.4,476.0 584.2,473.5 591.7,464.1 598.1,458.2 601.4,453.1 603.6,445.4 606.2,426.3 608.3,420.3 610.3,418.1 612.4,417.0 620.7,415.0 624.8,412.8 628.1,409.6 633.1,403.1 635.2,401.2 637.2,400.4 639.3,400.6 641.4,401.5 645.5,405.3 649.9,412.2 654.0,422.4 655.8,425.2 657.9,426.5 660.0,426.7 662.0,426.2 672.4,420.7 676.5,418.0 684.8,411.3 688.9,410.2 691.0,410.7 701.3,416.5 715.8,421.4 722.0,424.3 725.8,427.5 732.3,435.2 744.6,442.8 754.7,453.1 759.2,455.8 765.4,458.2 773.7,459.7 790.2,460.4 806.8,462.5 827.5,463.2 841.9,465.1 862.6,465.3 862.6,1028.1 814.0,1028.1 813.8,1005.1 813.1,1000.0 811.4,994.8 808.8,991.2 800.6,983.5 793.5,971.8 786.1,965.2 783.5,961.6 781.4,954.0 780.1,938.6 777.8,932.6 775.8,929.9 768.4,923.3 761.3,911.6 751.9,902.8 744.7,891.2 736.5,883.5 734.4,880.8 732.2,874.7 730.4,856.8 728.2,850.8 726.1,848.1 718.8,841.5 711.7,829.9 702.2,821.1 696.0,810.8 693.1,807.6 688.9,805.5 684.8,804.8 668.2,804.4 554.5,804.5 544.2,805.1 540.0,806.4 538.0,807.8 535.9,810.2 534.4,813.4 533.3,818.5 533.1,823.6 533.8,833.8 535.5,839.0 538.0,842.4 546.2,849.3 553.5,856.8 564.9,864.4 567.1,867.1 571.6,874.7 575.2,878.3 579.3,879.9 591.7,881.5 595.9,883.3 600.0,887.3 604.7,895.2 608.3,898.7 612.4,900.3 624.8,901.9 629.0,903.8 633.1,907.8 637.8,915.6 641.4,919.2 645.5,920.7 657.9,922.4 662.0,924.2 666.2,928.2 670.9,936.1 674.4,939.6 678.6,941.2 691.0,942.8 695.1,944.7 699.3,948.7 704.0,956.5 707.5,960.1 711.7,961.6 722.0,962.8 726.1,964.0 730.2,966.7 732.3,969.1 737.0,977.0 740.6,980.5 744.7,982.1 757.2,983.7 761.3,985.6 763.2,987.2 766.7,992.3 768.6,1000.0 769.1,1028.1 37.6,1028.1 37.6,532.8 99.6,532.7 107.9,532.3 114.1,530.1 124.4,520.8 130.6,518.6 138.9,518.0 184.4,517.9 190.6,517.0 194.7,514.8 197.6,511.8 200.3,506.7 201.7,499.1 201.5,491.4 200.4,486.3 198.9,482.8 196.8,480.0 190.6,473.8 189.2,470.9 188.9,468.4 190.4,463.3 192.7,460.1 199.5,453.1 205.1,445.4 209.2,440.9 213.3,438.1 225.8,434.5 229.9,431.1 232.3,427.5 234.1,422.4 235.6,409.6 236.7,404.5 237.8,401.9 239.7,399.4ZM430.5,682.7 426.3,684.6 424.3,686.2 414.2,698.4 409.8,702.0 403.6,704.9 393.0,708.6 389.1,710.6 380.8,718.4 376.7,721.0 372.6,722.2 362.2,723.4 358.1,724.7 356.0,726.1 354.0,728.4 352.4,731.6 351.3,736.7 351.0,741.8 351.3,749.5 352.2,754.6 354.5,759.7 362.2,768.5 365.8,775.1 367.2,782.7 367.5,805.7 368.3,813.4 370.5,819.1 372.6,821.5 376.2,823.6 382.9,824.7 389.1,824.3 393.2,823.0 397.4,819.7 403.6,809.4 411.8,801.7 414.4,798.1 416.6,790.4 417.9,775.1 420.1,769.1 422.2,766.3 429.6,759.7 436.3,749.5 438.7,747.3 440.8,746.5 442.9,746.5 444.9,747.3 447.5,749.5 453.2,757.7 455.3,759.3 457.3,760.1 459.4,760.0 461.5,759.1 463.5,757.0 464.7,754.6 466.0,749.5 466.4,744.4 466.2,716.3 461.5,693.3 459.6,688.2 457.3,685.2 455.3,683.7 451.1,682.3 438.7,681.9ZM409.8,846.4 405.6,848.5 403.6,850.6 397.4,860.9 388.7,869.6 387.0,873.3 386.7,877.3 388.7,882.4 396.3,890.1 399.0,895.2 400.2,900.3 401.5,912.5 403.6,918.0 405.7,920.7 407.7,922.1 409.8,922.6 411.8,922.1 413.5,920.7 415.0,918.2 416.3,913.1 417.3,900.3 418.5,895.2 421.2,890.1 428.4,883.5 431.0,879.8 432.7,874.7 433.4,867.1 432.5,856.3 430.9,851.7 428.4,848.7 424.3,846.4 420.1,845.7 413.9,845.7Z"/>
<path fill="#e11400" fill-rule="evenodd" d="M260.8,417.3 269.2,416.4 273.3,416.8 277.4,418.1 279.9,419.8 281.9,422.4 283.1,424.9 284.2,430.1 284.3,460.7 283.7,465.8 281.9,470.9 279.5,474.0 275.8,476.1 263.0,477.9 258.8,479.3 256.8,480.6 254.7,483.0 253.1,486.3 251.9,491.4 251.9,504.2 254.1,511.8 256.8,515.4 265.0,523.1 271.2,533.4 275.4,536.8 281.6,538.4 345.7,538.7 351.9,539.2 354.6,539.9 358.1,542.1 360.3,545.1 362.2,550.0 365.5,562.9 369.1,570.6 372.6,574.9 374.6,576.6 380.8,579.0 387.0,579.5 413.9,579.5 424.3,578.5 428.4,576.4 430.5,574.5 436.3,565.5 438.7,563.4 440.8,562.7 442.9,562.8 444.9,563.9 447.0,567.0 447.7,570.6 446.1,585.9 446.0,591.1 449.4,614.1 449.7,639.6 449.1,640.8 440.8,643.3 436.7,646.6 430.3,657.5 424.3,665.6 417.2,677.9 411.8,683.9 395.3,695.0 374.6,701.4 366.4,702.2 349.8,702.2 343.6,701.4 339.5,699.5 335.8,695.8 329.1,686.5 321.2,677.9 315.4,667.7 313.3,665.2 309.0,662.6 304.3,661.6 285.7,661.4 277.4,662.4 273.3,664.5 271.2,666.6 265.0,676.5 260.9,679.9 256.8,681.2 244.4,682.9 240.2,685.1 237.8,688.2 235.9,693.3 234.6,708.6 232.5,716.3 229.9,719.9 221.6,727.6 214.5,739.3 205.1,748.1 198.0,759.7 190.6,766.3 188.5,769.0 186.3,775.1 185.0,790.4 182.9,798.1 180.3,801.7 172.0,809.4 165.8,819.7 163.7,821.7 159.6,823.8 145.1,826.0 140.2,828.7 138.1,831.3 132.7,840.4 123.3,849.2 116.2,860.8 106.7,869.6 99.6,881.3 90.2,890.1 83.1,901.7 73.7,910.5 67.4,920.7 64.5,923.9 60.3,926.0 56.2,926.8 37.6,927.1 37.6,544.0 107.9,543.8 116.2,542.8 126.5,539.9 132.7,538.9 184.4,538.5 190.6,537.7 194.7,535.7 198.7,532.3 205.1,524.8 209.2,521.1 215.4,518.6 225.9,516.9 229.9,514.8 232.4,511.8 234.3,506.7 235.0,501.6 235.2,458.2 235.5,453.1 236.7,447.9 240.2,441.4 248.5,432.2 254.7,421.4 256.8,419.3ZM686.4,422.4 691.0,420.3 695.1,420.5 707.5,422.8 714.1,424.9 717.9,426.8 722.4,430.1 730.3,438.6 742.7,446.7 751.0,456.3 757.2,459.9 767.5,462.8 790.2,464.3 806.8,468.2 821.3,469.7 825.2,470.9 828.1,473.5 829.4,476.1 830.4,481.2 830.2,504.2 828.4,511.8 821.3,523.8 819.5,529.7 818.9,537.4 818.8,555.3 819.0,565.5 819.7,570.6 821.3,575.7 822.8,578.3 827.5,584.2 832.8,593.6 835.7,596.9 839.9,599.1 844.0,599.9 862.6,600.2 862.6,620.2 751.0,620.5 742.7,621.0 738.5,622.3 734.4,625.7 727.3,637.1 718.8,644.7 711.7,656.4 702.2,665.2 695.1,676.8 685.7,685.6 678.6,697.3 669.1,706.1 662.0,716.7 658.9,718.8 655.8,719.2 653.8,718.2 651.8,716.3 649.6,710.8 648.8,703.5 648.4,677.9 647.1,670.3 644.4,665.2 637.2,658.6 635.2,655.9 633.1,650.5 632.3,644.7 632.5,634.5 634.6,626.8 637.2,623.2 644.2,616.6 646.3,611.5 646.5,606.4 644.1,588.5 644.0,573.2 644.9,562.9 648.1,545.1 648.6,522.1 648.1,511.8 647.0,506.7 645.9,504.2 643.9,501.6 641.4,499.7 635.2,498.1 614.5,497.8 610.3,498.2 606.2,499.5 602.1,503.0 595.0,514.4 585.5,523.3 580.6,532.3 577.3,536.4 573.1,539.3 569.0,541.2 562.8,543.1 558.7,543.6 552.5,543.1 546.2,541.2 540.0,538.0 536.7,534.8 535.1,532.3 533.5,527.2 532.9,519.5 533.2,511.8 535.1,504.2 538.0,499.8 549.2,488.8 554.5,485.3 558.7,484.4 571.1,486.2 579.3,485.7 583.5,484.2 593.8,479.0 606.2,476.5 610.3,474.3 613.4,470.9 619.6,460.7 626.9,454.1 629.5,450.5 631.2,445.4 633.4,430.1 635.2,426.0 637.2,423.9 639.3,423.5 641.4,424.7 647.4,435.2 649.7,437.7 653.8,440.1 660.0,441.0 666.2,439.6 672.4,436.4 676.5,433.0ZM511.1,601.3 515.2,600.3 521.4,600.0 597.9,600.3 606.2,601.4 610.3,604.0 611.9,606.4 612.6,608.9 612.4,612.3 610.2,616.6 606.2,619.0 597.9,620.1 546.2,620.7 541.9,621.7 538.0,624.3 536.4,626.8 535.6,629.4 535.9,633.2 537.6,637.1 546.2,645.8 553.4,657.5 562.8,666.3 569.9,677.9 579.3,686.7 586.4,698.4 594.2,706.1 595.9,709.9 596.1,713.7 595.4,716.3 593.8,718.7 591.7,720.3 589.4,721.4 585.5,722.2 575.2,722.6 548.3,722.5 544.2,722.1 540.0,720.8 535.9,717.4 528.8,706.1 519.4,697.3 513.2,687.0 509.0,683.7 504.9,682.4 498.7,682.0 491.9,683.1 488.4,684.9 486.3,686.9 480.1,695.3 478.0,696.3 475.9,695.9 473.9,693.8 471.8,688.9 468.1,675.4 465.6,669.1 463.0,665.2 455.3,658.0 453.1,654.9 451.3,649.8 450.8,644.7 451.1,643.2 452.9,642.2 455.3,642.2 469.7,645.6 475.9,645.9 484.2,644.3 492.5,640.4 496.3,637.1 498.7,633.4 501.9,624.3 504.9,610.2 506.2,606.4 507.7,603.8ZM307.3,726.5 310.5,726.1 312.6,726.9 314.7,728.6 320.9,738.3 329.5,746.9 331.5,752.1 331.2,755.9 329.5,759.7 321.7,767.4 315.5,777.6 312.6,780.8 308.5,782.9 302.3,783.9 254.7,783.8 244.8,782.7 240.2,780.0 238.2,775.8 238.0,772.5 238.7,769.9 240.4,767.4 244.8,764.8 256.8,763.2 260.9,761.8 265.0,758.4 270.4,749.5 273.3,746.3 277.4,744.2 289.9,742.5 294.0,741.2 298.1,737.9 303.9,729.1ZM505.9,828.7 509.0,828.4 511.1,829.4 513.2,831.6 514.3,833.8 515.5,839.0 517.1,854.3 518.9,859.4 521.4,862.5 523.5,863.9 527.6,865.3 542.1,867.3 555.0,872.2 558.7,875.1 564.9,885.1 569.0,889.1 573.1,891.0 585.5,892.6 589.7,894.2 593.2,897.7 597.9,905.6 602.1,909.6 606.2,911.4 618.6,913.0 622.8,914.6 626.3,918.2 631.0,926.0 635.2,930.0 639.3,931.9 651.7,933.5 655.8,935.1 659.4,938.6 664.1,946.5 668.2,950.4 672.4,952.3 684.8,953.9 688.9,955.5 692.5,959.1 697.2,966.9 701.3,970.9 705.5,972.7 717.9,974.4 722.0,976.0 725.6,979.5 730.3,987.4 734.4,991.3 738.5,993.2 751.0,994.9 755.1,996.7 757.8,1000.0 759.2,1005.1 759.6,1028.1 499.7,1028.1 499.7,989.7 498.9,979.5 497.2,974.4 495.5,971.8 488.4,965.2 486.3,962.5 484.7,959.1 483.7,954.0 483.2,941.2 483.3,864.5 484.1,856.8 486.3,850.8 488.4,848.1 495.8,841.5 502.8,830.8ZM293.4,867.1 302.3,865.8 335.3,865.9 341.5,866.9 346.2,869.6 348.1,872.2 349.3,874.7 350.4,879.8 350.8,902.8 350.0,915.6 348.2,920.7 345.7,923.8 341.5,926.0 337.4,926.8 314.7,927.4 308.5,929.0 304.3,932.4 299.0,941.2 296.1,944.4 291.9,946.5 279.5,948.1 275.4,949.5 271.2,952.8 265.0,962.8 260.9,966.1 254.7,967.7 232.0,968.3 225.8,969.9 221.6,973.2 215.4,983.2 213.3,985.3 209.8,987.2 203.0,988.3 182.3,988.8 176.1,990.4 174.1,991.8 172.0,994.2 169.8,1000.0 169.0,1007.6 168.9,1028.1 37.6,1028.1 37.6,968.0 85.1,967.9 94.0,966.7 97.6,964.8 99.6,962.8 105.8,952.8 110.0,949.5 116.2,947.9 138.9,947.3 145.1,945.7 149.2,942.3 155.5,932.4 159.6,929.0 165.8,927.4 188.5,926.8 194.7,925.2 198.9,921.9 205.1,911.9 209.2,908.6 215.4,907.0 238.2,906.4 244.4,904.8 248.5,901.4 253.8,892.6 256.8,889.4 260.9,887.3 273.3,885.7 277.4,884.3 281.6,881.0 287.8,871.0 289.9,869.0ZM377.2,928.4 382.9,927.6 387.0,928.0 391.2,929.6 393.1,931.0 395.3,933.5 396.8,938.6 396.4,941.2 394.9,943.7 390.6,946.3 382.9,947.1 376.7,946.1 372.7,943.7 370.5,939.4 370.5,935.2 372.7,931.0Z"/>
<path fill="#c00000" fill-rule="evenodd" d="M701.8,430.1 707.5,430.0 713.4,432.6 726.1,443.4 737.3,450.5 745.4,460.7 751.0,464.9 757.2,467.1 767.5,468.9 788.2,470.5 790.2,471.1 794.4,473.8 796.9,478.6 798.3,486.3 800.0,491.4 802.6,495.0 809.5,501.6 811.7,506.7 811.8,511.8 809.5,529.7 808.8,566.8 807.4,573.2 804.7,577.0 800.6,578.9 794.4,579.5 695.1,579.9 690.4,580.8 686.1,583.4 683.9,585.9 678.6,594.8 674.4,598.1 670.3,599.4 664.1,599.5 660.0,598.2 657.5,596.2 655.8,593.7 654.8,591.1 653.8,585.9 653.5,580.8 654.1,570.6 656.7,562.9 662.0,555.1 667.5,545.1 670.3,541.9 674.4,539.7 686.9,538.1 691.0,536.7 693.1,535.3 695.1,532.9 697.2,527.7 698.1,516.9 697.7,511.8 696.7,506.7 694.0,501.6 685.9,493.9 684.3,491.4 682.6,486.3 681.8,478.6 681.8,458.2 682.6,450.5 684.4,445.4 685.9,442.8 688.9,439.2 693.4,435.2 697.2,432.3ZM554.7,504.2 556.6,502.9 558.7,502.4 560.7,502.9 562.8,504.8 563.8,506.7 565.1,511.8 565.2,519.5 564.0,524.6 562.5,527.2 558.7,529.5 556.6,529.5 552.8,527.2 550.5,522.1 550.1,516.9 550.7,511.8 552.5,507.0ZM213.3,539.9 219.6,539.0 236.1,538.9 242.3,539.8 246.4,542.0 248.9,545.1 250.7,550.2 252.1,565.5 253.2,570.6 254.3,573.2 256.3,575.7 260.9,578.5 265.0,579.2 271.2,579.5 345.7,579.6 354.0,580.2 358.1,581.6 360.8,583.4 364.3,587.1 370.5,595.5 374.6,598.4 380.8,599.9 403.6,600.7 409.8,602.5 411.6,603.8 413.4,606.4 414.2,608.9 413.9,612.8 411.8,617.2 405.2,624.3 403.2,629.4 403.6,633.4 405.2,637.1 412.6,644.7 414.7,649.8 414.8,654.9 414.0,660.1 411.9,667.7 409.8,671.6 405.7,675.4 401.5,677.3 393.2,680.1 387.0,681.2 351.9,681.5 345.7,680.5 341.5,678.3 338.7,675.4 336.0,670.3 334.9,665.2 333.5,652.4 331.8,647.3 329.1,643.6 322.9,638.1 320.3,634.5 318.6,629.4 317.1,614.1 315.9,608.9 314.6,606.4 312.6,604.4 310.5,603.4 308.5,603.4 306.4,604.2 303.9,606.4 299.1,614.1 296.8,616.6 294.0,618.6 289.9,619.9 279.5,620.4 188.5,620.4 180.3,619.9 176.1,618.6 172.0,615.3 166.3,606.4 163.7,603.7 159.6,601.6 155.5,601.0 153.4,601.2 152.4,603.8 151.9,626.8 150.8,631.9 149.2,635.4 147.2,638.1 138.9,645.8 131.8,657.5 122.4,666.3 115.2,677.9 105.8,686.7 98.7,698.4 89.3,707.1 82.1,718.8 73.6,726.5 66.5,737.9 62.4,741.2 56.2,742.8 37.6,743.1 37.6,702.2 58.3,701.6 62.4,700.4 65.3,698.4 67.4,695.8 72.7,686.8 82.2,677.9 89.3,666.3 98.7,657.5 105.8,645.8 115.3,637.1 122.4,625.4 131.8,616.6 138.9,605.6 143.0,602.3 151.3,599.5 151.7,596.2 151.0,591.1 149.3,585.9 147.4,583.4 145.1,581.7 141.0,580.2 136.8,579.7 130.6,580.0 126.5,581.4 122.4,584.8 115.3,596.2 105.8,605.0 98.7,616.6 89.3,625.4 82.2,637.1 72.7,645.9 67.4,654.9 65.3,657.5 62.4,659.5 58.3,660.8 37.6,661.3 37.6,559.5 141.0,559.5 188.5,559.0 192.7,558.3 196.8,556.4 200.5,552.7 207.1,543.8 209.2,542.0Z"/>
</g>
<g clip-path="url(#landclip)"><path fill="#ffe878" d="M160.0,440.0 156.0,432.0 162.0,424.0 170.0,416.0 178.0,408.0 188.0,400.0 196.0,396.0 204.0,397.0 207.0,404.0 206.0,412.0 198.0,416.0 190.0,422.0 184.0,430.0 176.0,436.0 168.0,440.0Z"/><path fill="#fffaaa" d="M164.0,434.0 170.0,424.0 180.0,414.0 190.0,405.0 199.0,401.0 203.0,404.0 200.0,410.0 192.0,414.0 184.0,422.0 176.0,430.0 168.0,435.0Z"/><path fill="#ffffff" d="M173.0,427.0 180.0,419.0 188.0,411.0 196.0,406.0 198.0,408.0 191.0,414.0 183.0,422.0 176.0,428.0Z"/><path fill="#ffe878" d="M256.7,298.3 263.3,293.3 271.7,291.7 280.0,294.2 288.3,296.7 298.3,296.7 305.0,298.3 300.0,301.7 290.0,300.8 280.0,300.0 271.7,298.3 265.0,303.3 260.0,305.0Z"/><path fill="#fffaaa" d="M261.7,299.2 268.3,295.0 276.7,295.0 275.0,297.5 268.3,298.3 264.2,301.7Z"/><path fill="#ffffff" d="M476.0,322.0 488.0,324.0 502.0,330.0 516.0,337.0 530.0,342.0 538.0,344.0 536.0,348.0 526.0,347.0 512.0,342.0 498.0,336.0 484.0,330.0 474.0,326.0Z"/><path fill="#82f0ff" d="M494.0,328.0 510.0,335.0 524.0,341.0 522.0,343.0 508.0,338.0 493.0,331.0Z"/><path fill="#ffffff" d="M470.0,352.0 482.0,350.0 496.0,348.0 506.0,352.0 510.0,360.0 506.0,368.0 494.0,370.0 482.0,367.0 470.0,368.0Z"/><path fill="#82f0ff" d="M488.0,344.0 500.0,343.0 508.0,350.0 510.0,360.0 504.0,366.0 494.0,360.0 488.0,352.0Z"/><path fill="#ffc03c" d="M460.0,430.0 486.7,420.0 506.7,430.0 520.0,446.7 530.0,460.0 530.0,480.0 520.0,500.0 506.7,513.3 493.3,506.7 483.3,486.7 473.3,466.7 463.3,450.0Z"/><path fill="#ffa000" d="M566.7,383.3 600.0,378.3 616.7,393.3 620.0,420.0 606.7,440.0 586.7,443.3 570.0,430.0 565.0,406.7Z"/><path fill="#ff6000" d="M575.0,388.3 593.3,385.0 606.7,396.7 608.3,416.7 600.0,430.0 586.7,431.7 576.7,420.0 571.7,403.3Z"/><path fill="#fffaaa" d="M515.0,361.7 531.7,370.0 545.0,383.3 560.0,395.0 571.7,415.0 578.3,433.3 595.0,453.3 588.3,461.7 570.0,455.0 555.0,445.0 545.0,431.7 535.0,416.7 525.0,400.0 515.0,383.3Z"/><path fill="#ffffff" d="M520.0,373.3 530.0,380.0 540.0,396.7 548.3,413.3 551.7,420.0 545.0,420.0 536.7,406.7 526.7,390.0Z"/><path fill="#fffaaa" d="M546.7,378.3 570.0,380.0 593.3,375.0 620.0,380.0 623.3,386.7 600.0,386.7 573.3,390.0 550.0,388.3Z"/><path fill="#ff3200" d="M601.7,420.0 620.0,416.7 633.3,430.0 636.7,453.3 626.7,470.0 606.7,466.7 596.7,450.0 598.3,433.3Z"/><path fill="#e11400" d="M611.7,430.0 626.7,433.3 630.0,453.3 620.0,463.3 608.3,453.3Z"/><path fill="#ff6000" d="M623.3,383.3 646.7,375.0 673.3,370.0 683.3,376.7 653.3,386.7 650.0,403.3 623.3,408.3Z"/><path fill="#ff3200" d="M623.3,410.0 653.3,403.3 673.3,410.0 666.7,430.0 650.0,438.3 623.3,436.7Z"/><path fill="#fffaaa" d="M650.0,388.3 666.7,383.3 686.7,386.7 693.3,400.0 680.0,410.0 660.0,408.3 650.0,400.0Z"/><path fill="#ffffff" d="M663.3,391.7 683.3,391.7 683.3,401.7 666.7,403.3Z"/><path fill="#ffe878" d="M416.7,350.8 444.4,346.7 472.2,349.4 494.4,352.2 497.2,366.1 480.6,377.2 455.6,380.0 433.3,377.2 419.4,366.1Z"/><path fill="#fffaaa" d="M455.6,349.4 494.4,350.8 497.2,363.3 477.8,371.7 458.3,366.1Z"/><path fill="#ffffff" d="M687.8,354.0 700.7,349.3 714.7,354.0 717.0,368.0 710.0,375.0 719.3,379.7 738.0,382.0 752.0,386.7 749.7,400.7 742.7,412.3 733.3,410.0 721.7,400.7 710.0,393.7 698.3,386.7 691.3,375.0Z"/><path fill="#82f0ff" d="M694.8,357.5 707.7,356.3 710.0,368.0 700.7,370.3Z"/><path fill="#82f0ff" d="M707.7,379.7 721.7,383.2 738.0,386.7 747.3,390.2 746.2,398.3 741.5,407.7 733.3,405.3 721.7,396.0 710.0,386.7Z"/><path fill="#fffaaa" d="M746.0,412.0 764.0,408.0 790.0,410.0 816.0,408.0 840.0,412.0 848.0,424.0 848.0,440.0 840.0,446.0 826.0,452.0 808.0,450.0 792.0,447.0 778.0,440.0 764.0,432.0 752.0,422.0Z"/><path fill="#ffe878" d="M760.0,412.0 768.0,411.0 769.0,418.0 761.0,419.0Z"/><path fill="#ffe878" d="M798.0,440.0 812.0,439.0 814.0,446.0 800.0,447.0Z"/><path fill="#fffaaa" d="M707.7,398.3 717.0,407.7 728.7,419.3 735.7,427.5 749.7,435.7 766.0,443.8 780.0,450.8 794.0,455.5 808.0,456.7 824.3,455.5 838.3,449.7 846.5,442.7 848.1,444.6 840.0,451.6 839.8,451.7 839.5,451.9 839.3,452.0 825.3,457.8 825.0,457.9 824.8,458.0 824.5,458.0 808.2,459.2 808.0,459.2 807.8,459.2 793.8,458.0 793.5,457.9 793.2,457.9 779.2,453.2 778.9,453.1 748.5,437.9 748.4,437.8 734.4,429.7 734.2,429.5 734.0,429.3 733.8,429.1 726.8,421.0 705.9,400.1Z"/><path fill="#ffc03c" d="M705.9,400.1 726.8,421.0 733.8,429.1 734.0,429.3 734.2,429.5 734.4,429.7 748.4,437.8 748.5,437.9 778.9,453.1 779.2,453.2 793.2,457.9 793.5,457.9 793.8,458.0 807.8,459.2 808.0,459.2 808.2,459.2 824.5,458.0 824.8,458.0 825.0,457.9 825.3,457.8 839.3,452.0 839.5,451.9 839.8,451.7 840.0,451.6 848.1,444.6 849.8,446.5 841.6,453.5 841.2,453.8 840.7,454.1 840.3,454.3 826.3,460.1 825.7,460.3 825.2,460.4 824.7,460.5 808.4,461.7 808.0,461.7 807.6,461.6 793.6,460.5 793.0,460.4 792.4,460.2 778.4,455.6 777.8,455.3 747.4,440.1 747.1,440.0 733.1,431.8 732.7,431.5 732.3,431.2 731.9,430.8 725.0,422.7 704.1,401.9Z"/><path fill="#ff6000" d="M704.1,401.9 725.0,422.7 731.9,430.8 732.3,431.2 732.7,431.5 733.1,431.8 747.1,440.0 747.4,440.1 777.8,455.3 778.4,455.6 792.4,460.2 793.0,460.4 793.6,460.5 807.6,461.6 808.0,461.7 808.4,461.7 824.7,460.5 825.2,460.4 825.7,460.3 826.3,460.1 840.3,454.3 840.7,454.1 841.2,453.8 841.6,453.5 849.8,446.5 851.4,448.4 843.2,455.4 842.6,455.8 841.9,456.3 841.2,456.6 827.2,462.4 826.5,462.7 825.7,462.9 824.9,463.0 808.5,464.1 808.0,464.2 807.4,464.1 793.4,463.0 792.5,462.8 791.6,462.6 777.6,457.9 776.6,457.5 746.3,442.4 745.9,442.1 731.9,434.0 731.2,433.5 730.5,433.0 730.0,432.4 723.2,424.4 702.4,403.6Z"/><path fill="#e11400" d="M702.4,403.6 723.2,424.4 730.0,432.4 730.5,433.0 731.2,433.5 731.9,434.0 745.9,442.1 746.3,442.4 776.6,457.5 777.6,457.9 791.6,462.6 792.5,462.8 793.4,463.0 807.4,464.1 808.0,464.2 808.5,464.1 824.9,463.0 825.7,462.9 826.5,462.7 827.2,462.4 841.2,456.6 841.9,456.3 842.6,455.8 843.2,455.4 851.4,448.4 852.7,449.9 844.5,456.9 843.7,457.5 842.9,458.0 842.0,458.4 828.0,464.3 827.0,464.6 826.0,464.8 825.0,465.0 808.7,466.1 807.9,466.2 807.2,466.1 793.2,465.0 792.1,464.8 791.0,464.5 777.0,459.8 775.8,459.3 745.4,444.2 744.9,443.9 730.9,435.7 730.0,435.1 729.2,434.4 728.5,433.7 721.7,425.8 700.9,405.1Z"/><path fill="#ff6000" d="M456.3,515.0 479.7,517.3 486.7,550.0 486.7,578.0 500.7,601.3 486.7,620.0 468.0,610.7 461.0,585.0 458.7,550.0Z"/><path fill="#ffa000" d="M466.8,526.7 475.0,529.0 478.5,550.0 477.3,568.7 480.8,582.7 490.2,601.3 484.3,610.7 475.0,601.3 470.3,585.0 469.2,568.7 470.3,550.0Z"/><path fill="#ffc03c" d="M471.5,540.7 475.0,541.8 475.0,557.0 472.7,557.0Z"/><path fill="#ffa000" d="M479.7,494.0 489.0,496.3 498.3,519.7 503.0,538.3 498.3,540.7 491.3,524.3 484.3,508.0Z"/><path fill="#ffa000" d="M429.3,722.7 440.0,714.7 453.3,712.0 462.7,720.0 457.3,733.3 446.7,741.3 434.7,749.3 429.3,741.3 430.7,732.0Z"/></g>

</g>
<g clip-path="url(#mapclip)">
<g stroke="#b4b4b4" stroke-width="1.6" stroke-dasharray="1.8 8" fill="none"><line x1="86.2" y1="191.1" x2="86.2" y2="1008.9"/><line x1="152.3" y1="191.1" x2="152.3" y2="1008.9"/><line x1="218.5" y1="191.1" x2="218.5" y2="1008.9"/><line x1="284.7" y1="191.1" x2="284.7" y2="1008.9"/><line x1="350.9" y1="191.1" x2="350.9" y2="1008.9"/><line x1="417.0" y1="191.1" x2="417.0" y2="1008.9"/><line x1="483.2" y1="191.1" x2="483.2" y2="1008.9"/><line x1="549.3" y1="191.1" x2="549.3" y2="1008.9"/><line x1="615.5" y1="191.1" x2="615.5" y2="1008.9"/><line x1="681.7" y1="191.1" x2="681.7" y2="1008.9"/><line x1="747.9" y1="191.1" x2="747.9" y2="1008.9"/><line x1="814.0" y1="191.1" x2="814.0" y2="1008.9"/><line x1="53.1" y1="272.9" x2="847.1" y2="272.9"/><line x1="53.1" y1="354.7" x2="847.1" y2="354.7"/><line x1="53.1" y1="436.4" x2="847.1" y2="436.4"/><line x1="53.1" y1="518.2" x2="847.1" y2="518.2"/><line x1="53.1" y1="600.0" x2="847.1" y2="600.0"/><line x1="53.1" y1="681.8" x2="847.1" y2="681.8"/><line x1="53.1" y1="763.6" x2="847.1" y2="763.6"/><line x1="53.1" y1="845.3" x2="847.1" y2="845.3"/><line x1="53.1" y1="927.1" x2="847.1" y2="927.1"/></g>
<path d="M152.5,238.3 158.3,237.5 163.3,235.0 162.5,230.8 167.5,229.2 173.3,230.0 177.5,231.7 180.0,235.0 177.5,240.0 178.3,245.0 177.5,250.8 174.2,254.2 168.3,255.8 161.7,257.5 155.8,258.3 150.8,258.3 150.0,254.2 154.2,252.5 151.7,249.2 155.8,247.5 152.5,244.2 155.0,241.7ZM174.5,233.7 177.0,233.7 177.3,235.8 174.7,236.0ZM197.5,198.3 195.0,202.5 190.0,205.0 187.5,209.2 195.0,210.0 204.2,210.0 206.7,210.8 203.3,215.0 200.8,220.0 205.8,222.5 208.3,228.3 210.8,234.2 216.7,239.2 219.2,244.2 221.7,248.3 227.5,249.2 230.0,252.5 229.2,256.7 225.8,259.2 221.7,260.8 226.7,261.7 232.5,262.5 230.0,265.0 223.3,266.7 216.7,266.3 210.0,267.0 203.3,268.3 196.7,269.7 190.0,272.0 182.5,272.5 185.0,269.2 190.0,265.8 195.0,263.3 200.0,260.8 197.5,259.2 191.7,260.0 185.0,259.2 187.5,255.8 193.3,254.2 190.0,250.8 188.3,247.5 195.8,245.8 198.3,240.8 196.7,236.7 195.0,232.5 190.0,233.3 186.7,231.7 187.5,227.5 184.2,225.8 185.0,221.7 181.7,219.2 179.2,215.0 181.7,212.5 179.2,210.0 182.5,206.7 185.8,203.3 190.0,201.7 193.3,199.2ZM171.7,205.8 175.8,204.2 174.2,207.5 177.5,208.7M173.3,210.8 178.0,210.0 175.8,213.3 180.0,215.0M175.8,216.7 180.0,218.3 177.5,220.8 181.7,222.5 179.2,225.0 183.3,225.8M169.2,211.7 171.7,209.7M210.0,327.0 210.8,321.7 211.7,315.0 210.0,306.7 207.5,298.3 204.2,295.0 196.7,290.8 190.0,288.3 187.5,285.8 190.0,284.2 196.7,283.3 203.3,282.5 207.5,281.7 206.7,276.7 209.2,275.0 211.7,276.7 212.5,280.8 218.3,279.2 223.3,275.8 228.3,272.5 230.8,268.3 233.3,265.0 240.0,261.7 246.7,256.7 250.0,251.7 252.5,247.5 256.7,245.8 262.5,244.2 266.7,241.7 271.7,240.0 273.3,235.0 272.5,227.5 273.3,221.7 275.8,216.7 281.7,213.3 286.7,210.8M211.7,306.7 215.0,314.2M340.8,233.0 343.3,235.0 350.0,233.7 356.7,231.7 359.2,227.5 358.3,221.7 360.0,215.0 363.3,210.0 366.7,208.3 371.7,208.3 375.8,205.8 376.7,201.7 374.2,198.3 378.3,195.8 383.3,194.2 391.7,193.3 400.0,194.2M364.2,202.5 366.7,199.2 372.5,200.0 370.8,205.0 365.8,205.8ZM252.0,248.7 256.3,248.0 256.7,253.0 252.5,253.7ZM308.3,305.0 301.7,305.0 300.0,310.0 301.7,316.7 306.7,323.3 313.3,328.3 320.0,333.3 325.0,340.0M308.3,305.0 310.8,310.0 313.3,313.3 316.7,318.3 321.7,323.3 328.3,328.3 336.7,331.7 343.3,336.7 346.7,340.0M312.5,312.5 315.8,316.7M325.8,327.5 331.7,330.8M289.0,209.0 288.5,212.5 287.0,215.5 288.0,219.0 289.5,221.0 287.0,222.5 285.0,225.0 284.0,228.0 284.5,232.0 285.0,235.0 288.0,237.0 290.5,239.0 295.0,238.0 299.0,236.5 303.0,235.5 307.0,235.0 309.0,237.0 311.0,239.0 315.0,240.0 320.0,238.5 325.0,237.0 330.0,235.5 335.0,234.0 340.0,233.0 345.0,234.5M305.5,235.0 307.5,234.0 308.5,236.0 306.5,236.5ZM282.5,226.5 286.5,225.5 288.5,228.5 287.0,232.0 283.5,231.5ZM292.5,224.5 297.0,223.0 301.0,224.5 300.5,229.5 297.5,232.0 293.5,231.0ZM292.0,233.2 295.0,232.8 298.0,234.0M292.0,193.0 293.5,198.0 295.0,203.0 297.0,208.0 299.0,213.0 301.5,217.0 303.0,221.0 304.0,225.0 305.0,228.0 309.0,228.0 313.0,226.5 315.0,223.0 319.0,222.0 324.0,221.0 327.0,218.0 328.5,214.0 329.0,210.0 327.5,205.0 329.0,200.0 332.0,197.0 336.0,195.0 341.0,193.0 345.0,192.0M255.0,201.0 259.0,203.0 263.0,205.5 268.0,206.0 273.0,205.0 278.0,203.0 283.0,200.0 287.0,196.0 288.5,192.0 289.0,190.0M292.0,193.0 291.0,190.0M300.5,201.0 303.0,198.0 307.0,196.5 310.5,198.0 309.5,201.0 305.0,203.0 301.5,203.0ZM312.0,208.0 315.0,202.0 317.5,200.0 318.0,201.5 315.5,205.0 313.5,209.0ZM330.5,212.5 329.0,217.0 327.5,221.0M339.0,209.5 343.0,207.5 344.8,208.2 341.5,213.5 338.5,214.0ZM316.0,230.0 318.0,230.5 317.2,231.2ZM308.5,215.5 309.5,216.5M315.0,217.5 316.2,218.5M273.5,216.0 275.0,218.5 274.0,220.0 276.5,219.0M380.0,195.0 390.0,194.2 400.0,193.3 406.7,192.5M397.5,200.0 400.8,199.2 403.3,204.2 404.2,207.5 401.7,207.5 399.2,203.3ZM422.5,205.0 425.8,203.7 428.3,205.8 424.2,206.3ZM465.0,200.8 470.0,197.5 474.2,200.0 476.7,204.2 473.3,205.8 468.3,204.2ZM500.8,211.7 507.5,210.0 505.0,214.2 504.2,217.5 503.0,213.3M419.2,262.5 420.0,267.5M425.8,274.2 433.3,277.5 438.3,280.8 446.7,284.2 451.7,285.0 451.7,291.7 444.2,293.3 442.5,296.7 435.0,298.3 430.0,298.3M528.3,257.5 523.3,260.8 521.7,268.3 518.3,273.3 515.8,279.2 512.5,285.0M509.2,277.5 506.7,283.3 503.3,287.5 499.2,290.0 496.7,291.7M400.0,340.0 398.3,335.0 400.0,328.3 405.0,323.3 408.3,318.3 409.2,312.5 414.2,309.2 415.8,305.0 420.8,302.5 427.5,300.0 430.0,298.3 428.3,303.3 435.0,305.0 443.3,304.7 450.0,300.8 458.3,298.3 466.7,296.7 474.2,295.0 478.3,295.5 472.5,298.3 470.8,305.0 466.7,310.0 470.8,314.2 478.3,320.0 486.7,326.7 493.3,333.3 496.7,340.0M444.2,305.0 435.0,309.2 437.5,313.3 441.7,314.2 443.3,318.0 448.3,315.3 454.2,312.5 460.0,310.8 466.7,309.7 465.8,306.7 458.3,307.5 453.3,309.2 450.0,306.7 446.7,304.7M527.5,314.2 530.0,320.0M592.2,191.9 590.3,198.5 585.6,201.3 593.1,204.2 594.1,208.9M585.6,208.9 582.7,213.6 576.1,216.4M561.0,224.9 551.6,227.8 543.1,228.7 539.3,235.3 543.1,240.1 541.2,244.8 547.8,243.8M539.3,249.5 534.6,255.2M528.9,257.1 523.2,260.8 521.3,267.4 523.2,270.3 518.5,273.1 515.7,278.8 512.8,284.4M607.3,255.2 609.2,258.0M673.4,270.3 678.1,267.4M604.4,326.0 603.5,318.4 605.4,310.9 610.1,305.2 615.8,300.5 623.3,298.6 626.2,300.5 623.3,305.2 628.1,312.8 623.3,318.4 621.4,324.1 614.8,325.1 610.1,323.2 605.4,326.9ZM612.9,303.3 622.4,301.4M667.7,343.9 671.5,345.8M515.7,350.6 520.4,352.4M526.1,345.8 529.8,347.7M531.7,306.7 528.3,316.7 531.7,326.7 536.7,336.7 541.7,346.7 546.7,353.3 550.0,350.0 545.0,356.7 543.3,366.7 546.7,375.0 553.3,380.0 563.3,381.7 573.3,380.0 575.0,370.0 572.7,360.0 570.0,353.3 566.7,345.0 568.3,338.3 563.3,330.0 558.3,323.3 553.3,318.3 550.0,313.3 555.0,311.7 561.7,315.0 568.3,310.0 570.0,301.7 565.0,297.3 556.7,296.7 546.7,301.7 536.7,305.0ZM568.3,338.3 575.0,336.7 580.0,341.7 576.7,347.3 570.0,346.0ZM570.0,353.3 574.0,355.0 571.7,358.3M727.0,233.0 734.0,232.0 731.0,234.4M701.0,245.0 704.0,247.0M743.6,247.6 745.2,248.8M756.0,240.0 762.0,236.0 769.0,233.0M673.0,270.0 678.0,267.0 676.0,269.6M829.0,229.0 820.0,233.0 823.0,235.0 824.0,238.0 828.0,240.0M797.0,258.0 799.0,261.0M706.0,310.0 705.0,305.0 709.0,301.0 715.0,299.0 726.0,300.0 736.0,299.6 742.0,300.0 741.0,302.0 730.0,302.4 720.0,302.0 713.0,304.0 709.0,308.0 707.0,313.0ZM752.0,300.0 756.0,300.4M757.0,303.0 760.0,302.0 762.0,306.0 759.0,307.0ZM770.0,276.0 774.0,275.0 771.0,280.0 775.0,284.0 768.0,286.0 777.0,290.0M723.0,334.0 730.0,332.0 735.0,333.0 730.0,336.0 725.0,336.4ZM729.0,322.4 735.0,323.0M828.0,269.0 831.0,267.6 833.0,270.0 830.6,272.4ZM834.0,279.0 839.0,280.0M828.0,288.0 832.0,287.0 836.0,289.0M794.4,294.4 796.8,295.6M784.4,282.6 786.8,283.2M793.0,338.0 796.0,339.0M815.0,348.0 817.0,353.0M681.0,351.6 684.0,351.0M703.6,361.6 705.2,362.8M209.0,320.0 209.0,328.0 200.0,327.6 188.0,327.0 176.0,326.0 165.0,325.0 158.0,329.0 159.0,332.0 160.0,336.0 162.0,341.0 160.0,348.0 158.0,356.0 160.0,361.0 157.0,363.0 158.0,367.0 161.0,370.0 160.0,377.0 163.0,378.4 169.0,378.0 171.0,377.0 175.0,380.0 178.0,384.0 181.0,387.0 184.0,385.0 190.0,382.0 197.0,381.0 203.0,379.0 208.0,375.0 212.0,371.0 216.0,369.0 219.0,365.0 218.0,359.0 220.0,353.0 224.0,348.0 230.0,344.0 237.0,340.0 239.0,336.0 242.0,329.0 248.0,326.0 253.0,328.0 258.0,329.0M236.0,356.0 240.0,354.4 242.0,357.0 239.0,359.6 235.6,358.4ZM244.0,354.0 247.0,355.0M227.0,362.4 229.0,364.4M183.0,389.0 190.0,393.0 198.0,393.6 205.0,394.4 212.0,390.0 220.0,385.0 230.0,382.0 240.0,380.0 250.0,379.0 260.0,379.0 270.0,379.6 278.0,378.4 285.0,377.0 290.0,379.0 293.0,380.0 290.0,384.0 292.0,389.0 295.0,386.0 291.0,394.0 293.0,399.0 290.0,404.0 289.0,408.0 292.0,410.0 296.0,413.0 302.0,414.0 310.0,415.0M289.6,405.6 291.2,406.8M183.0,389.0 180.0,389.0 178.6,390.0M178.7,390.0 176.0,396.7 170.7,404.7 164.0,408.7 158.7,412.7 154.7,418.0 153.3,424.7 154.0,431.3 152.0,438.0 148.0,443.3 142.7,448.7 137.3,451.3 132.7,452.9 130.7,455.3 126.7,462.0 122.7,468.7 120.7,475.3 118.0,482.0 114.0,487.3 111.3,494.0 108.0,499.3 106.0,504.7 105.3,510.0M128.7,441.3 129.3,444.0 127.3,447.3 125.3,450.7 123.3,452.0M113.9,451.9 115.5,451.3 116.3,452.9 114.7,454.0ZM106.7,451.3 110.0,448.7 111.3,450.0 108.7,452.0ZM104.0,451.6 104.9,452.4M99.5,445.7 100.5,446.5 100.0,448.1M98.0,454.3 99.5,455.1M104.7,413.3 107.3,414.0 108.7,415.3M109.6,410.8 110.4,411.3M317.0,320.0 324.0,325.0 330.0,329.0 338.0,333.0 345.0,337.0 348.0,342.0 347.0,348.0 349.0,354.0 353.0,359.0 355.0,365.0 359.0,370.0 369.0,367.0 377.0,368.0 381.0,373.0 380.0,379.0 376.0,377.0 374.4,381.0 370.0,380.0 369.0,385.0 364.0,380.0 360.0,375.0 359.0,370.0M369.0,367.0 369.0,360.0 377.0,363.0 382.0,367.0 379.0,360.0 374.0,355.0 370.0,350.0 372.0,346.0 377.0,345.0 380.0,350.0 383.0,348.0 386.0,351.0 384.0,345.0 390.0,344.0 396.0,343.0 402.0,345.0 408.0,344.0 404.0,348.0 400.0,352.0 394.0,350.0 396.0,357.0 393.0,361.0 398.0,364.0 394.0,368.0 400.0,371.0 399.0,376.0 405.0,379.0 404.0,384.0 409.0,382.0 414.0,385.0 420.0,382.0 426.0,380.0 432.0,382.0 438.0,385.0 444.0,386.0 450.0,383.0 454.0,380.0 458.0,382.0 457.0,387.0 455.0,392.0 456.0,398.0 454.0,404.0 452.0,412.0 450.0,420.0 448.0,426.0 443.0,427.0 438.0,425.0 432.0,424.0 427.0,423.0 422.0,424.0 417.0,427.0 411.0,428.0 404.0,426.0 396.0,424.0 388.0,424.0 383.0,422.0 378.0,418.0 372.0,415.0 366.0,412.4 360.0,413.0 354.0,416.0 351.0,420.0 350.0,426.0 348.0,431.0 344.0,433.0 338.0,429.0 332.0,426.0 326.0,424.0 321.0,420.0 319.0,416.0 312.0,414.0 306.0,413.0 300.0,412.4M370.0,355.0 375.0,358.0M379.0,352.0 384.0,354.0M386.0,357.0 389.0,360.0M391.0,363.0 394.0,366.0M384.0,367.0 388.0,370.0M388.0,374.0 392.0,377.0M394.0,378.0 398.0,381.0M400.0,380.0 403.0,385.0M382.0,380.0 386.0,382.0M372.0,359.0 379.0,363.0 384.0,368.0M401.0,386.0 404.0,389.0M391.0,348.0 394.0,350.0M388.0,353.0 390.0,354.4M375.0,391.0 380.0,390.0 388.0,392.0 396.0,391.0 399.0,393.0 394.0,395.0 386.0,395.6 379.0,395.0ZM432.0,395.0 438.0,393.0 444.0,390.0 449.0,389.0 446.0,392.0 443.0,395.0 439.0,398.0 434.0,398.0ZM407.0,320.0 405.0,326.0 404.0,332.0 407.0,337.0 411.0,341.0 412.0,342.0 420.0,343.0 428.0,340.0 436.0,338.0 444.0,339.0 452.0,341.0 460.0,343.0 468.0,345.0 476.0,344.0 480.0,343.0M402.0,345.0 406.0,347.0 411.0,345.0M431.0,435.0 433.0,442.0 436.0,449.0 440.0,456.0 443.0,464.0 447.0,472.0 452.0,482.0 455.0,490.0 456.0,500.0M433.0,435.0 436.0,442.0 440.0,449.0 444.0,455.0 447.0,458.0 448.0,452.0 449.0,444.0 449.6,438.0 451.0,448.0 452.0,456.0 456.0,464.0 460.0,472.0 466.0,482.0 472.0,492.0 476.0,500.0M432.0,424.0 432.0,435.0M426.0,498.0 430.0,496.0 433.0,494.0 436.0,489.0 437.6,485.6M438.0,363.0 441.0,366.0 439.0,366.4M422.0,369.0 425.0,371.0 428.0,373.0M419.6,440.6 422.4,441.2M477.0,320.0 482.0,324.0 488.0,329.0 493.0,335.0 494.0,339.0 488.0,343.0 478.0,345.6 470.0,346.0M606.0,320.0 605.0,326.0 614.0,324.0 622.0,324.0 623.0,320.0M499.0,365.6 504.0,363.0 508.0,364.4 504.0,367.6ZM516.0,369.0 519.0,368.0 521.6,374.0 520.0,378.0 517.6,376.0ZM515.6,350.0 518.0,350.4 520.4,353.0M526.0,346.0 530.0,348.0M504.0,401.0 505.6,400.0 506.4,405.0 504.4,405.6ZM506.0,412.0 508.0,411.0 509.0,415.0 506.6,415.6ZM538.0,436.0 536.0,442.0 539.0,448.0 543.0,456.0 547.0,462.0 550.0,468.0 553.0,474.0 555.0,480.0 554.0,472.0 557.0,467.6 560.0,470.0 560.4,477.0 558.0,482.4 564.0,485.0 572.0,484.0 578.0,480.0 583.0,475.0 588.0,469.0 592.0,463.0 595.0,460.0 596.0,467.0 598.0,474.0 603.0,482.0 608.0,490.0 613.0,498.0 614.0,500.0M539.0,436.0 545.0,435.0 549.0,438.0 552.0,444.0 556.0,450.0 562.0,456.0 568.0,460.0 574.0,463.0 581.0,464.0 587.0,462.0 592.0,460.0 595.0,461.0 598.0,466.0 602.0,470.0 610.0,472.0 618.0,474.0 626.0,475.0 636.0,475.0 644.0,473.0 650.0,472.0M551.0,467.6 552.4,470.4M470.0,484.0 474.0,492.0 476.0,500.0M640.0,473.0 649.3,474.2 658.7,475.3 664.5,478.1 670.3,485.8 675.0,490.5 680.8,491.2 685.5,492.1 679.7,494.5 674.5,499.1 678.5,505.7 684.3,510.3 690.2,512.7 696.0,508.0 698.3,501.0 699.7,498.2 701.8,503.3 701.1,512.7 701.8,522.0 703.0,531.3 705.3,540.7 707.7,550.0M675.0,499.8 680.8,501.0 686.2,497.5M756.2,550.0 759.5,546.5 763.4,542.3 770.0,536.5 777.7,529.0 786.5,519.4 792.6,515.2 794.0,509.9 794.5,505.7 797.7,504.7 801.7,503.8 808.0,503.3 815.0,501.0 820.8,498.2 826.2,498.9 827.6,506.4 830.2,512.2 833.4,516.9 837.9,523.2 842.1,529.9 843.0,540.7 842.8,550.0M801.0,504.5 804.5,501.0 806.8,505.2 810.3,501.0 813.8,504.5M816.2,501.0 818.5,497.5 820.8,501.5M765.3,423.5 767.2,421.9 769.3,422.8 767.6,424.2ZM782.8,429.4 784.7,427.7 786.8,428.7 785.1,430.1ZM789.8,428.2 791.7,426.6 793.8,427.5 792.1,428.9ZM805.0,422.4 806.8,420.7 808.9,421.7 807.3,423.1ZM816.6,430.5 818.5,428.9 820.6,429.8 819.0,431.2ZM822.5,420.0 824.3,418.4 826.4,419.3 824.8,420.7ZM816.6,444.5 818.5,442.9 820.6,443.8 819.0,445.2ZM754.8,430.5 756.7,428.9 758.8,429.8 757.1,431.2ZM815.0,348.2 816.2,352.8M667.1,344.2 669.4,345.1M681.1,350.3 683.4,351.2M120.0,480.0 115.3,484.7 111.1,491.7 108.3,499.8 106.0,508.0 105.5,511.5 108.3,510.3 111.1,518.5 110.2,524.3 111.8,530.2 112.5,538.3 111.1,545.3 108.3,550.0 104.8,557.0 102.5,561.2 107.2,564.0 108.3,569.8 107.2,573.3 108.3,578.0 107.2,582.7 110.7,585.0 111.8,589.7 117.7,588.5 120.0,592.0 124.7,596.7 129.3,602.5 131.7,608.3 132.8,615.3 136.3,620.0 143.3,624.7 150.3,631.7 157.3,638.7 164.3,643.3 169.0,646.1 178.3,643.3 190.0,640.5 199.3,640.5 204.0,642.2 211.0,638.7 218.0,635.2 227.3,631.2 236.7,629.3 243.7,629.3 248.3,632.8 253.0,638.7 255.3,644.5 260.0,646.1M107.2,572.2 117.7,569.8 125.8,571.5M108.3,575.7 118.8,573.8M108.3,582.7 117.7,581.5 127.0,580.3M111.8,589.7 116.5,586.2 120.0,588.5M57.2,546.5 59.1,547.0M65.4,545.3 67.3,545.8M66.6,550.0 68.4,550.5M63.1,557.0 64.9,557.5M59.6,558.2 61.4,558.6M54.9,559.3 56.8,559.8M208.7,607.2 213.3,610.7 216.8,617.7 214.5,622.3 220.3,620.0 219.2,627.0 216.8,629.3M180.7,616.5 181.8,623.5M248.3,592.0 249.5,599.0M190.0,544.2 192.8,546.5 191.2,550.0 190.0,555.8M250.0,631.7 254.7,638.7 259.3,644.5 268.7,645.2 275.7,643.3 276.8,648.0 279.2,657.3 281.5,666.7 280.3,676.0 279.9,683.0 279.2,690.0M274.5,651.5 276.8,655.0M266.8,667.4 268.2,668.8M261.0,679.0 262.4,680.4M307.2,567.5 310.7,572.2 308.3,575.7 314.2,576.8 316.5,573.3 313.0,569.8M425.0,503.3 428.5,497.5 434.3,494.0 436.7,485.8M450.7,480.0 455.3,491.7 458.8,498.7 460.0,501.0M345.7,667.8 350.3,666.2M356.2,665.5 359.7,664.8M371.3,666.7 372.5,668.5M450.5,480.0 454.0,489.3 461.0,499.8 464.5,510.3 468.0,522.0 472.7,532.5 478.5,541.8 483.2,550.0 489.0,559.3 494.8,568.7 500.7,575.7 504.2,578.0 501.8,580.3 497.2,582.7 496.0,589.7 500.7,591.5 503.0,586.2 506.5,589.7 510.0,594.3 519.3,594.3 528.7,591.5 538.0,589.7 547.3,587.3 554.3,585.0 556.0,585.5 556.7,589.7 555.5,596.7 554.3,603.7 550.8,613.0 546.2,624.7 540.3,636.3 533.3,648.0 524.0,659.7 514.7,669.0 505.3,678.3 498.3,686.5 494.8,690.0M466.8,480.0 471.5,487.0 477.3,497.5 482.0,508.0 487.8,517.3 492.5,526.7 498.3,536.0 501.8,545.3 503.5,554.7 504.2,564.0 505.3,573.3 507.7,576.8 514.7,573.3 521.7,569.8 528.7,568.7 538.0,565.2 547.3,560.5 556.7,555.8 563.7,550.0 570.7,545.3 580.0,541.8 589.3,536.0 595.2,530.2 601.0,524.3 603.3,517.3 608.0,512.7 611.5,505.7 614.5,498.7 612.7,492.8 608.0,488.2 601.0,483.5 595.2,480.0M604.5,515.5 608.0,512.7M556.7,480.0 561.3,483.5 570.7,484.7 578.8,482.3 580.0,480.0M494.8,541.8 497.2,545.3M482.0,553.5 485.5,555.8M519.3,559.3 522.8,562.8 518.2,565.2M571.8,579.2 576.5,577.5 579.5,579.2 575.3,581.5ZM563.7,581.5 567.2,582.0M463.3,582.7 466.1,580.8 467.5,583.8 465.2,586.2ZM468.0,631.7 470.3,628.2M445.8,586.2 447.0,589.7M455.9,560.0 457.3,561.4M675.0,500.0 684.3,508.2 692.5,511.7 697.2,507.0 699.5,501.2 700.2,504.7 700.7,516.3 701.8,528.0 704.2,539.7 706.5,551.3 708.8,560.7 712.3,570.0 715.8,579.3 719.3,588.7 722.8,598.0 725.9,607.3 728.7,613.9 730.5,615.5 733.3,614.3 736.8,609.7 740.3,603.8 745.0,600.8 746.9,595.7 747.3,588.7 747.8,579.3 748.5,570.0 749.7,560.7 753.2,552.5 757.8,545.5 763.7,539.7 770.7,533.8 777.7,528.0 784.7,522.2 790.5,516.3 794.0,510.5 795.9,504.7 796.3,500.0M746.2,602.7 749.7,601.5 754.3,607.3 757.8,615.5 759.0,623.7 756.7,630.7 752.0,633.5 747.8,630.7 746.2,621.3 745.5,612.0ZM826.7,500.0 830.2,509.3 834.8,518.7 838.3,525.7 841.1,535.0 843.0,544.3 845.3,550.2 847.7,552.5M833.7,570.0 832.5,579.3 831.3,588.7 830.2,594.5M832.0,605.7 833.0,607.1M836.0,613.2 838.8,616.7M837.9,621.3 839.5,627.2M695.5,586.6 696.5,587.3M699.0,589.6 700.0,590.3M700.7,586.1 701.6,586.8M696.7,593.1 697.6,593.8M702.1,594.3 703.0,595.0M705.3,593.1 706.3,593.8M706.0,598.9 707.0,599.6M696.7,598.9 697.6,599.6M701.4,613.6 702.3,614.3M702.1,626.2 703.0,626.9M703.0,661.2 703.9,661.9M280.0,695.0 284.7,703.2 290.5,712.5 295.2,719.5 298.7,725.3 299.8,727.7 301.0,734.7 303.3,744.0 306.8,753.3 309.2,762.7 309.9,772.0 306.8,781.3 303.3,790.7 299.8,800.0 297.5,809.3 296.3,818.7 296.8,828.0 299.8,839.7M338.3,695.0 340.2,702.0M407.2,753.8 408.8,751.5 411.1,750.5M412.1,705.5 410.7,710.2 411.8,718.3 415.3,730.0 420.0,741.7 424.2,751.5 427.0,750.5 422.8,738.2 419.1,727.7 415.8,716.0 414.9,706.7ZM443.3,761.5 444.5,772.0 446.1,781.3 448.0,790.7 451.5,797.7 452.7,793.0 449.9,781.3 448.0,772.0 446.1,761.5ZM399.0,823.3 403.7,819.1 409.5,815.9M422.3,809.3 429.3,808.9 434.0,808.2M493.3,695.9 489.3,699.4 486.7,704.1 483.2,710.6 480.7,716.0 478.1,720.0 476.7,726.7 477.4,732.1 480.0,736.1 478.6,741.4 480.0,746.6 480.7,753.3 482.1,760.3 485.3,767.3 487.7,776.7 487.2,790.7 486.5,800.0 483.0,809.3 476.0,818.7 466.7,825.7 457.3,832.7 451.5,842.0 450.3,851.3 452.7,860.7 453.8,870.0M414.2,772.0 416.5,774.3M391.5,751.7 392.9,752.9M395.0,769.2 396.2,770.6M302.8,841.7 308.7,853.3 313.3,865.0 315.7,873.2 316.8,883.7 319.2,895.3 322.7,904.7 327.3,914.0 330.8,923.3 334.3,932.7 336.7,942.0 337.8,951.3 340.2,957.2 342.5,963.0 348.3,964.9 355.3,963.0 362.3,960.7 371.7,960.2 383.3,959.5 390.3,957.9 397.3,954.8 404.3,950.2 411.3,944.3 417.2,937.3 423.0,929.2 427.7,921.0 431.2,911.7 433.5,902.3 435.8,893.0 441.7,886.0 448.7,881.3 452.2,874.3 452.9,865.0 451.0,855.7 448.7,846.3 453.3,839.3 460.3,832.3 462.7,830.0M388.0,907.0 391.5,905.8 392.7,908.9M404.3,901.2 406.7,903.5M382.2,927.5 384.5,929.2M386.8,931.5 389.9,932.7M545.0,782.0 548.0,786.0 550.0,794.0 552.0,802.0 552.4,808.0 549.0,811.0 549.6,818.0 547.0,826.0 545.0,836.0 542.0,846.0 539.0,856.0 536.0,866.0 533.0,876.0 530.0,884.0 524.0,889.0 518.0,891.0 512.0,887.0 508.0,880.0 506.0,870.0 505.0,860.0 508.0,850.0 511.0,842.0 510.0,832.0 511.0,822.0 513.0,814.0 520.0,811.6 526.0,808.0 532.0,802.0 536.0,796.0 539.0,790.0 542.0,784.0ZM524.0,811.0 528.0,806.0 531.0,805.0 534.0,799.0 537.0,797.0 539.0,791.0M505.0,775.0 506.0,779.0M507.6,781.6 508.6,782.6M511.6,780.6 512.6,781.6M516.4,785.4 518.0,786.8M524.0,757.6 526.0,758.6M590.2,739.6 591.0,740.4M592.0,766.0 592.8,766.8M584.4,853.0 586.4,852.0 588.0,854.4 586.4,856.8 584.6,855.6ZM598.4,846.0 600.4,845.6 600.8,848.4 599.0,849.6ZM637.4,842.6 638.6,843.4M259.0,328.5 263.0,326.5 267.0,323.5 271.0,321.5 275.0,319.0 279.0,318.5 283.0,320.0 285.5,323.0 287.0,326.5 288.0,330.0 290.0,332.5 293.0,334.5 296.0,337.5 299.0,340.0 302.0,342.5 306.0,344.5 309.5,346.0 313.0,348.5 316.5,350.5 319.5,353.0 322.0,356.0 324.0,360.0 325.0,364.0 324.0,366.0 325.0,368.0 324.0,370.0 323.3,370.8 325.0,369.5 327.0,367.0 329.0,364.0 330.0,361.0 328.5,358.0 328.0,355.0 329.5,352.0 332.0,350.5 335.0,352.0 338.0,354.5 340.0,355.5 340.6,354.8 340.0,352.5 338.0,350.0 335.0,348.0 332.0,346.0 329.0,343.5 326.0,341.0 324.0,339.5 325.2,338.6 322.0,337.5 319.0,335.0 316.0,332.0 313.0,328.5 310.0,325.0 307.0,322.0 304.0,320.0 301.0,318.0 300.0,315.0 299.5,312.0 300.0,310.0M276.5,333.5 279.5,332.0 281.2,331.5 281.5,335.0 280.5,339.0 279.0,342.5 277.0,342.0 275.8,339.0 275.5,336.0ZM273.0,346.0 276.5,345.5 279.5,344.0 282.0,344.5 283.0,349.0 283.5,354.0 282.0,359.0 280.0,362.0 276.5,361.5 273.5,362.5 273.0,359.0 273.5,354.0 273.0,350.0ZM300.0,371.0 303.0,369.5 308.0,370.5 313.0,370.0 318.0,369.0 321.5,368.5 321.0,372.0 319.5,376.0 319.0,380.0 317.5,381.5 313.0,379.0 308.0,376.0 304.0,374.0ZM312.2,386.8 314.0,388.2M297.4,380.4 298.2,381.2M286.2,331.2 287.2,331.8M316.6,366.2 317.4,366.8M318.6,364.2 319.4,364.8M312.5,312.0 315.0,315.0 319.0,319.0M325.0,326.0 330.0,329.0 335.0,331.5M428.7,686.0 430.7,682.7 434.7,680.7 440.0,679.3 443.3,682.0 444.0,686.7 443.3,691.3 442.0,696.0 440.0,700.0 436.7,702.7 432.7,702.0 429.3,703.3 428.0,699.3 428.7,693.3 428.3,689.3ZM428.7,701.3 432.0,700.0 435.3,702.0M436.0,698.7 440.0,696.7M444.0,684.0 448.0,682.7M426.0,664.7 422.7,668.7 420.0,672.7M413.3,683.7 414.4,686.7M411.3,694.7 410.0,698.7 410.7,702.7M432.0,667.3 436.0,666.0 440.0,668.0 438.0,670.7 434.0,670.0ZM456.7,645.3 457.3,650.7 458.7,656.0 460.7,660.7M481.6,722.0 482.4,725.3M478.0,729.3 479.3,734.0M481.3,743.3 480.0,746.7M448.7,712.7 451.3,710.0M454.7,709.3 455.3,712.0M456.0,700.7 456.7,702.7M428.7,744.0 432.0,747.3 435.3,750.7M406.0,757.3 408.0,753.3 410.7,751.3" fill="none" stroke="#000" stroke-width="1.65" stroke-linejoin="round" stroke-linecap="round"/>
<path d="M230.8,265.8 240.0,268.3 248.3,271.7 256.7,275.0 263.3,279.2 271.7,280.8 269.2,286.7 268.3,291.7 263.3,296.7 259.2,300.8 264.2,306.7 265.0,313.3 266.7,320.0 263.3,323.3M241.7,260.8 250.0,263.3 256.7,265.0 259.2,270.0 260.0,275.0M266.7,243.3 264.2,250.0 262.5,256.7 259.2,263.3 260.0,270.0 263.3,278.3M268.3,292.5 276.7,290.8 286.7,292.5 290.0,295.0M259.2,301.7 266.7,305.0 273.3,306.7 281.7,305.0 286.7,308.3 290.0,306.7M314.2,240.0 315.0,245.0 313.3,250.0 315.8,256.7 316.7,264.2M316.7,264.2 323.3,266.7 328.3,270.0 335.0,272.5 340.8,273.3 345.0,276.7 351.7,278.3 360.0,277.5 366.7,280.0 369.2,278.3M374.2,238.3 376.7,246.7 373.3,253.3 377.5,260.0 376.7,268.3 372.5,273.3 369.2,278.3M344.2,235.0 353.3,236.7 363.3,237.5 374.2,238.3M316.7,264.2 310.0,265.8 303.3,268.3 299.2,270.8 301.7,275.8 306.7,280.0 312.5,282.5M312.5,282.5 320.0,281.7 326.7,283.3 330.0,286.7M312.5,282.5 305.0,288.3 298.3,290.0 291.7,291.7 285.8,294.2 278.3,291.7 271.7,290.8 268.3,290.0M268.3,243.3 266.7,250.0 262.5,256.7 259.2,261.7 257.5,268.3 260.0,275.0 266.7,280.8 271.7,283.3 269.2,290.0M285.8,294.2 290.0,298.3 298.3,300.0 306.7,301.7 315.0,300.0 321.7,298.3 327.5,296.7 328.3,290.0 330.0,286.7M330.0,286.7 333.3,290.0 343.3,288.3 350.0,285.8 358.3,285.0 365.8,286.7 369.2,289.2 366.7,283.3 369.2,278.3M327.5,296.7 333.3,303.3 340.8,306.7 350.0,305.0 356.7,303.3 363.3,296.7 369.2,289.2M369.2,289.2 376.7,290.0 386.7,289.2 396.7,287.5 400.0,290.0M356.7,303.3 361.7,310.0 366.7,316.7 368.3,323.3 366.7,328.3 370.0,331.7M258.3,301.7 265.0,305.0 268.3,300.0 275.0,301.7 283.3,300.8 290.0,298.3M380.0,290.0 388.3,288.3 395.8,287.5 400.8,293.3 405.0,301.7 405.8,310.0 409.2,312.5M380.0,323.3 388.3,321.7 396.7,323.3 405.0,323.3M707.0,370.0 706.0,362.0 710.0,356.0 718.0,350.0 724.0,349.0 732.0,345.0 740.0,342.0 747.0,338.0 751.0,330.0 752.0,322.0 748.0,314.0 756.0,311.0 763.0,311.0 765.0,304.0 767.0,296.0 779.0,298.0 785.0,294.0 786.0,284.0 796.0,280.0 800.0,281.0 808.0,276.0 818.0,270.0 828.0,267.0 836.0,267.0 846.0,272.0M800.0,281.0 806.0,286.0 814.0,290.0 819.0,298.0 819.0,310.0 830.0,312.0 842.0,316.0 846.0,319.0M209.0,328.0 218.0,331.0 228.0,334.0 239.0,336.0M161.0,337.0 167.0,339.0 176.0,340.0 178.0,342.0 173.0,346.0 172.0,354.0 170.0,359.0 173.0,367.0 170.0,373.0 169.0,378.0M205.6,394.4 207.0,402.0 209.0,410.0 211.0,416.0 204.0,419.0 196.0,422.0 194.0,426.0M278.0,378.4 274.0,386.0 273.0,396.0 269.0,404.0 272.0,410.0 277.0,416.0 280.0,424.0 281.0,434.0 286.0,428.0 290.0,422.0 295.0,416.0 296.0,413.0M281.0,434.0 284.0,444.0 283.0,456.0 282.0,464.0 285.0,472.0 290.0,480.0 296.0,486.0 297.2,489.2M132.0,455.3 160.7,455.3 160.7,447.3 165.3,443.3 173.3,439.3 181.3,436.7 186.7,432.7 193.3,427.3 194.7,422.0 200.0,418.0M160.7,455.3 160.7,468.7 138.7,468.9 138.7,488.7 133.3,491.3 131.3,496.7 131.3,507.1 106.0,507.3M160.7,458.0 173.3,467.3 186.7,477.3 200.0,486.7M186.7,477.3 175.3,477.3 178.0,510.0M348.0,342.0 354.0,341.0 360.0,342.0 367.0,340.0 374.0,341.0 380.0,340.0 388.0,339.0 396.0,340.0 400.0,342.0 402.0,345.0M396.0,340.0 400.0,337.0 406.0,337.0M367.0,340.0 368.0,332.0 366.0,326.0 368.0,320.0M367.0,322.0 380.0,323.0 390.0,321.0 404.0,323.0M345.0,337.0 349.0,332.0 347.0,326.0 350.0,320.0M383.0,422.0 384.0,432.0 383.6,500.0M448.0,426.0 445.0,440.0 447.0,452.0 449.6,438.0M449.6,438.0 452.0,432.0 451.0,424.0 453.0,416.0M453.0,416.0 460.0,419.0 468.0,416.0 476.0,408.0 480.0,406.0M451.0,442.0 460.0,440.0 466.0,434.0 463.0,428.0 470.0,424.0 476.0,418.0 480.0,414.0M458.0,387.0 466.0,384.0 474.0,383.0 480.0,382.0M454.0,404.0 457.0,405.0 459.0,400.0 457.0,397.0M470.0,380.0 480.0,379.0 490.0,378.0 500.0,377.0 510.0,379.0 513.0,378.0 511.0,368.0 509.0,360.0 510.0,354.0 507.0,348.0 500.0,342.0 494.0,339.0M510.0,354.0 518.0,360.0 526.0,359.0 534.0,356.0 538.0,358.0 542.0,366.0M479.0,320.0 490.0,326.0 502.0,332.0 514.0,338.0 526.0,342.0 536.0,339.0M513.0,378.0 518.0,386.0 524.0,390.0 521.0,396.0 525.0,404.0 530.0,410.0 534.0,416.0 536.0,424.0 539.0,432.0 539.0,436.0M500.0,377.0 494.0,386.0 492.0,396.0 478.0,408.0 474.0,411.0 478.0,418.0 490.0,424.0 504.0,432.0 508.0,438.0 520.0,446.0 529.0,442.0 530.0,436.0 538.0,436.0M520.0,446.0 524.0,443.0 529.0,442.0 534.0,448.0 539.0,448.0M470.0,408.0 474.0,411.0 470.0,414.0M576.0,379.6 582.0,372.0 590.0,369.0 598.0,370.0 606.0,374.0 614.0,378.0 620.0,380.0 623.0,384.0 622.0,394.0 620.0,404.0 622.0,414.0 625.0,424.0 622.0,432.0 623.0,440.0 630.0,448.0 634.0,456.0 636.0,463.0 628.0,466.0 626.0,475.0M623.0,384.0 628.0,390.0 636.0,388.0 644.0,382.0 648.0,378.0 650.0,377.0M623.0,440.0 632.0,441.0 642.0,440.0 650.0,439.0M640.0,436.8 649.3,438.0 658.7,433.3 665.7,428.7 671.5,421.7 677.3,417.0 679.7,410.0 684.3,403.0 689.0,398.3 690.2,391.3 692.5,384.3 696.0,380.8 700.7,378.5 710.0,377.3 714.7,376.2M640.0,385.5 647.0,379.7 654.0,375.0 663.3,376.2 672.7,373.8 682.0,370.3 687.8,368.0 690.2,375.0 693.7,382.0 696.0,380.8M710.0,377.3 705.3,370.3 703.0,363.3 707.7,354.0 717.0,351.7 724.0,347.0 733.3,343.5 742.7,340.0M714.7,376.2 721.7,382.0 731.0,387.8 740.3,387.8 748.5,390.2 748.5,396.0 742.7,400.7 740.3,406.5 743.8,414.7 738.0,420.5 735.7,426.3 742.7,429.8 749.7,433.3 756.7,435.7M696.0,380.8 703.0,386.7 710.0,384.3 717.0,383.2 724.0,386.7 733.3,390.2 738.0,396.0 735.7,403.0 740.3,406.5M703.0,386.7 704.2,392.5 707.7,396.0 710.0,394.8 717.0,398.3 726.3,404.2 735.7,410.0 743.8,414.7M750.8,434.5 759.0,438.0 767.2,442.7 775.3,447.3 784.7,452.0 794.0,454.3 801.0,455.5M750.8,434.5 749.7,442.7 756.7,447.3 766.0,452.0 775.3,456.7 784.7,460.2 794.0,462.5 801.0,461.3 801.0,455.5M801.0,455.5 805.7,452.0 808.0,456.7 817.3,455.5 826.7,454.3 829.0,455.5 829.0,462.5 819.7,463.7 810.3,463.7 808.0,456.7M829.0,455.5 836.0,448.5 843.0,443.8 846.5,441.5M710.0,394.8 706.5,398.3 705.3,405.3 710.0,410.0 712.3,417.0 710.0,424.0 707.7,432.2 703.0,438.0 694.8,445.0 686.7,450.8 680.8,456.7 679.7,463.7 685.5,470.7 689.0,477.7 686.7,482.3 679.7,484.7 675.0,490.5M710.0,438.0 717.0,442.7 722.8,449.7 728.7,454.3 729.8,461.3 726.3,470.7 732.2,477.7 726.3,482.3 720.5,480.0 717.0,487.0 710.0,491.7 706.5,489.3 700.7,491.7 696.0,484.7 689.0,480.0M710.0,424.0 719.3,428.7 724.0,433.3 720.5,440.3 710.0,438.0M724.0,433.3 731.0,438.0 729.8,447.3 728.7,454.3M712.3,417.0 721.7,419.3 731.0,424.0 735.7,426.3M731.0,424.0 733.3,433.3 731.0,438.0M742.7,429.8 746.2,438.0 749.7,442.7M729.8,461.3 738.0,467.2 736.8,475.3 741.5,480.0 740.3,470.7 749.7,473.0 761.3,477.7 769.5,475.3 770.7,466.0 775.3,456.7M710.0,491.7 719.3,501.0 731.0,503.3 740.3,506.8 749.7,503.3 756.7,498.7 761.3,489.3 766.0,482.3 769.5,475.3M700.7,491.7 705.3,501.0 701.8,508.0 710.0,505.7 719.3,501.0M749.7,503.3 752.0,515.0 747.3,524.3 740.3,519.7 733.3,524.3 735.7,533.7 731.0,538.3 721.7,540.7 717.0,550.0M756.7,498.7 763.7,503.3 766.0,512.7 761.3,522.0 756.7,533.7 747.3,524.3M766.0,512.7 773.0,508.0 780.0,501.0 789.3,498.7 798.7,503.3M769.5,475.3 777.7,480.0 789.3,477.7 798.7,482.3 796.3,491.7 789.3,498.7M801.0,461.3 803.3,470.7 798.7,482.3 803.3,491.7 808.0,503.3M803.3,470.7 810.3,468.3 815.0,473.0 824.3,471.8 826.7,480.0 822.0,484.7 826.7,496.3M803.3,470.7 808.0,480.0 812.7,489.3 815.0,501.0M829.0,462.5 838.3,466.0 845.3,461.3M826.7,480.0 833.7,475.3 840.7,470.7 845.3,461.3 850.0,456.7M831.3,512.7 836.0,501.0 833.7,489.3 838.3,480.0 843.0,489.3 840.7,503.3 843.0,517.3 838.3,529.0M735.7,533.7 745.0,536.0 754.3,531.3 761.3,533.7M107.2,508.0 131.7,507.5 132.1,491.7 138.2,490.5 138.7,480.0M176.0,480.0 179.5,515.0 182.5,554.7 166.7,555.1 156.2,554.2 150.3,555.8 143.3,554.7 138.7,560.5M111.1,546.5 117.7,545.3 124.7,547.7 130.5,552.3 136.3,558.2 138.7,560.5 139.8,568.7 142.2,575.7 143.3,581.5 134.0,580.3 124.7,579.9 117.7,582.7 111.8,583.8M120.0,592.0 124.7,586.2 130.5,582.7 129.3,580.3M143.3,581.5 152.7,582.7 158.5,580.3 159.7,585.0 163.2,594.3 162.0,599.0 166.7,606.0 165.5,610.7M130.5,607.2 135.2,601.3 143.3,600.2 149.2,604.8 150.3,611.8 145.7,620.0 142.2,623.5M150.3,611.8 155.0,613.0 157.3,621.2 162.0,617.7 165.5,610.7 164.3,620.0 166.7,629.3 169.0,646.1M162.0,599.0 171.3,595.5 177.2,597.8 183.0,594.3 185.3,582.7 192.3,573.3 201.7,568.7 211.0,561.7 220.3,559.3 232.0,558.2 243.7,554.7 246.0,538.3 247.2,525.5M190.0,480.0 208.7,495.2 227.3,510.3 236.7,518.5 240.2,525.5 247.2,524.3 260.0,518.5M183.0,594.3 190.0,599.0 199.3,592.0 198.2,606.0 200.5,620.0 199.3,634.0 199.8,641.0M199.3,592.0 213.3,591.5 220.3,592.0 221.5,601.3 219.2,613.0 222.7,624.7 225.0,631.7M220.3,592.0 227.3,589.7 234.3,582.7 232.0,575.7 225.0,568.7 220.3,559.3M227.3,589.7 229.2,610.7 229.7,630.5M236.7,629.3 236.7,610.7 241.3,596.7 243.7,582.7 239.0,578.0 234.3,582.7M239.0,578.0 243.7,571.0 253.0,567.5 260.0,568.7M250.0,523.2 261.7,515.0 275.7,503.3 287.3,492.8 296.7,489.3M296.7,489.3 311.8,495.9 317.7,494.0 324.7,489.8 343.3,501.0 362.0,511.5 377.2,520.8M317.7,494.0 320.0,505.7 323.5,515.0 322.3,526.7 320.0,540.7 313.0,554.7 308.3,564.0 307.2,567.5M377.2,520.8 377.2,518.5 384.2,518.5 384.2,480.0M384.2,501.0 413.3,501.5 427.3,501.5 443.7,501.5 460.0,500.5M377.2,520.8 377.2,552.3 371.3,553.5 369.0,561.7 364.3,571.0 363.2,578.0 366.7,582.7 369.0,592.0M250.0,568.7 259.3,569.8 266.3,574.5 275.7,573.3 285.0,574.5 296.7,572.2 307.2,568.7M314.2,578.0 313.0,585.0 308.3,596.7 304.8,606.0 300.2,617.7 295.5,624.7 292.0,629.3 285.0,624.7 278.0,631.7 275.7,643.3M316.5,578.0 317.7,589.7 320.0,599.0 311.8,601.3 316.5,610.7 321.2,620.0M321.2,620.0 331.7,615.3 343.3,609.5 352.7,606.0 359.7,599.0 369.0,592.0M369.0,592.0 374.8,606.0 380.7,615.3 387.7,622.3 394.7,631.7 399.3,638.7 406.3,643.3 415.7,646.8 422.7,651.5M321.2,620.0 315.3,629.3 314.2,638.7 318.8,648.0 322.3,657.3 325.8,664.3M325.8,664.3 330.5,652.7 341.0,651.5 344.5,643.3 348.0,639.8 357.3,643.3 366.7,645.7 376.0,641.0 387.7,638.7 399.3,638.7M281.5,665.5 293.2,665.5 293.2,672.5 282.7,673.2M293.2,665.5 306.0,664.3 313.0,666.7 325.8,664.3M330.5,652.7 336.3,664.3 338.7,676.0 336.3,690.0M306.0,664.3 308.3,673.7 313.0,678.3 311.8,690.0M422.7,651.5 427.3,652.7 436.7,649.2 443.7,646.8 450.7,643.3 455.3,643.3 458.8,652.7 460.0,657.3M460.0,557.0 457.7,568.7 453.0,580.3 448.3,586.2 446.0,596.7 441.3,606.0 437.8,614.2 446.0,620.0 450.7,631.7 455.3,643.3M561.3,525.5 564.8,536.0 568.3,545.3M503.0,539.5 512.3,538.3M440.0,502.2 461.0,501.5M451.7,484.7 450.5,492.8 444.7,499.8 440.0,501.5M472.7,534.8 463.3,541.8 461.0,554.7 457.5,568.7 452.8,578.0 447.0,587.3 442.3,601.3 440.0,610.7 444.7,620.0 449.3,629.3 452.8,638.7 449.3,641.0M497.2,582.7 500.7,592.0 504.2,601.3 514.7,607.2 526.3,613.0 535.7,616.5 526.3,629.3 517.0,641.0 505.3,643.3 497.2,646.1M708.8,545.5 717.0,543.2 721.7,538.5 729.8,533.8 732.2,525.7 738.0,521.0M729.8,533.8 731.0,542.0 729.8,550.2 727.5,556.0 728.7,565.3 732.2,570.0 733.3,577.0M731.0,550.2 740.3,547.8 749.7,543.2 755.5,539.7 759.0,543.2M738.0,521.0 742.7,519.8 749.7,523.3 754.3,530.3 752.0,535.0 755.5,539.7M754.3,530.3 763.7,523.3 770.7,516.3 780.0,511.7 789.3,507.0M733.3,577.0 740.3,574.7 748.5,570.0M733.3,577.0 729.8,584.0 726.3,588.7 728.7,598.0 729.8,607.3 731.0,614.3M749.7,523.3 752.0,514.0 749.7,504.7 752.0,500.0M763.7,523.3 762.5,514.0 766.0,507.0 770.7,500.0M738.0,521.0 740.3,511.7 735.7,504.7 736.8,500.0M280.0,671.7 294.0,672.1 294.5,663.5 308.0,663.5 313.8,670.5 309.2,682.2 311.5,699.7 297.5,700.8 296.3,710.2 301.0,718.3 299.8,727.7M338.3,660.0 337.2,669.3 336.0,682.2 333.7,690.3 326.7,702.0 320.8,713.7 312.7,718.3 303.3,721.8 299.8,727.7M301.0,728.8 315.0,729.5 327.8,730.0 330.2,739.3 334.8,746.8 347.7,746.3 348.8,740.5 361.7,741.2 364.0,758.0 366.3,772.0 376.8,771.5 376.8,787.2 364.5,787.9 364.5,809.3 369.8,821.0 375.7,826.8M296.8,821.0 305.7,822.2 324.3,822.9 339.5,823.3 343.0,826.8 359.3,827.5 375.7,826.8 385.0,825.7 396.7,828.0 399.0,823.3M351.2,870.0 351.2,861.1 357.0,860.7 357.0,831.5 373.3,829.2 385.0,829.2 396.7,828.0M376.8,771.5 382.7,774.3 389.7,779.0 396.7,776.7 403.7,783.7 410.7,789.5 414.2,790.7 414.9,781.3 407.2,780.2 408.3,758.0 410.7,752.2 417.7,749.8 422.3,751.0M449.2,776.7 457.3,775.5 466.7,774.3 478.3,769.7 485.3,767.3M426.5,752.2 434.0,756.8 441.0,760.3 438.7,772.0 436.8,783.7 436.3,794.2 441.0,800.0 446.1,800.0 447.5,809.3 451.5,821.0 455.0,811.7 453.8,802.3 451.5,797.7M436.3,794.2 431.7,798.8 418.8,804.7 418.8,809.3M409.5,815.9 415.3,811.7 418.8,809.3M418.8,809.3 429.3,811.7 438.7,816.3 441.0,823.3 438.7,832.7 436.3,842.0 431.7,851.3 424.7,860.7M399.0,823.3 396.7,832.7 389.7,837.3 394.3,844.3 401.3,849.0 406.0,858.3 415.3,863.0 424.7,860.7M327.3,914.5 332.0,911.7 336.7,916.3 344.8,916.8 349.5,912.8 351.1,907.0 351.1,860.3 357.7,860.3 357.7,830.0M351.1,888.3 355.3,900.0 362.3,898.8 369.3,890.7 378.7,891.8 388.0,889.5 392.7,879.0 402.0,869.7 410.2,862.7M410.2,862.7 420.7,863.8 427.7,862.7M427.7,862.7 430.0,876.7 431.2,890.7 435.8,893.0M423.0,896.5 426.5,892.5 431.2,894.2 431.9,901.2 427.7,904.7 423.5,901.9ZM398.5,922.2 404.3,916.3 410.2,917.5 413.2,923.3 409.0,929.2 403.2,931.5 399.7,928.0ZM420.0,690.0 444.0,690.0 453.3,696.7 462.7,703.3 469.3,708.0 474.7,714.7 478.0,719.3M444.0,640.0 446.0,646.7 448.7,654.7 450.0,662.7 448.0,670.7 445.3,677.3 444.0,682.0M423.3,652.0 422.7,658.7 422.0,663.3 420.0,672.7 416.7,676.0 414.7,682.7 414.0,686.7 416.0,690.0 420.0,690.0M420.0,690.0 422.0,693.3 422.7,698.7 417.3,700.7 416.7,702.7 421.3,704.0 422.0,708.7 417.3,714.7 414.0,717.3M454.7,643.3 460.0,644.0 469.3,646.0 477.3,650.7 482.7,648.7 490.7,647.3 496.0,644.0 505.3,641.3 512.0,640.0M496.0,648.0 491.3,655.3 490.7,666.7 490.7,680.0 492.0,692.0 493.3,696.0M423.3,651.3 428.7,650.0 434.7,650.7 440.0,648.0 444.0,645.3M402.7,750.7 412.0,749.3 421.3,750.0 424.7,751.3 430.7,754.7 438.7,758.0 444.0,760.0" fill="none" stroke="#000" stroke-width="1.35" stroke-linejoin="round"/>

<text x="220.0" y="260.7" textLength="17.7" lengthAdjust="spacingAndGlyphs" class="st">LND</text>
<text x="244.4" y="281.8" textLength="17.5" lengthAdjust="spacingAndGlyphs" class="st">PRS</text>
<text x="194.6" y="351.4" textLength="19.9" lengthAdjust="spacingAndGlyphs" class="st">MDD</text>
<text x="297.4" y="288.4" textLength="19.9" lengthAdjust="spacingAndGlyphs" class="st">MNC</text>
<text x="301.9" y="339.2" textLength="19.9" lengthAdjust="spacingAndGlyphs" class="st">ROM</text>
<text x="411.3" y="345.9" textLength="12.2" lengthAdjust="spacingAndGlyphs" class="st">IST</text>
<text x="468.1" y="226.0" textLength="21.3" lengthAdjust="spacingAndGlyphs" class="st">MCW</text>
<text x="169.2" y="407.5" textLength="17.7" lengthAdjust="spacingAndGlyphs" class="st">CSB</text>
<text x="240.0" y="380.5" textLength="17.7" lengthAdjust="spacingAndGlyphs" class="st">ALG</text>
<text x="306.3" y="412.6" textLength="14.3" lengthAdjust="spacingAndGlyphs" class="st">TPL</text>
<text x="321.8" y="415.9" textLength="17.2" lengthAdjust="spacingAndGlyphs" class="st">KRT</text>
<text x="425.7" y="435.8" textLength="18.8" lengthAdjust="spacingAndGlyphs" class="st">CRO</text>
<text x="556.6" y="390.0" textLength="17.7" lengthAdjust="spacingAndGlyphs" class="st">THN</text>
<text x="513.0" y="409.7" textLength="18.4" lengthAdjust="spacingAndGlyphs" class="st">BGD</text>
<text x="527.8" y="480.0" textLength="18.4" lengthAdjust="spacingAndGlyphs" class="st">RYH</text>
<text x="585.3" y="476.0" textLength="17.7" lengthAdjust="spacingAndGlyphs" class="st">DUB</text>
<text x="673.8" y="366.6" textLength="19.4" lengthAdjust="spacingAndGlyphs" class="st">DHB</text>
<text x="747.4" y="378.8" textLength="17.7" lengthAdjust="spacingAndGlyphs" class="st">HTN</text>
<text x="676.6" y="399.3" textLength="17.7" lengthAdjust="spacingAndGlyphs" class="st">KBL</text>
<text x="712.0" y="423.6" textLength="16.6" lengthAdjust="spacingAndGlyphs" class="st">LHR</text>
<text x="671.8" y="450.8" textLength="17.7" lengthAdjust="spacingAndGlyphs" class="st">JCB</text>
<text x="727.5" y="450.2" textLength="24.3" lengthAdjust="spacingAndGlyphs" class="st">NDLS</text>
<text x="783.4" y="458.4" textLength="20.4" lengthAdjust="spacingAndGlyphs" class="st">KTM</text>
<text x="663.4" y="481.1" textLength="18.8" lengthAdjust="spacingAndGlyphs" class="st">KRC</text>
<text x="696.1" y="494.0" textLength="18.1" lengthAdjust="spacingAndGlyphs" class="st">AHM</text>
<text x="802.7" y="498.8" textLength="17.7" lengthAdjust="spacingAndGlyphs" class="st">KOL</text>
<text x="700.3" y="526.3" textLength="19.5" lengthAdjust="spacingAndGlyphs" class="st">MUM</text>
<text x="702.7" y="587.3" textLength="18.2" lengthAdjust="spacingAndGlyphs" class="st">DBT</text>
<text x="727.5" y="614.7" textLength="14.4" lengthAdjust="spacingAndGlyphs" class="st">TRV</text>
<text x="745.8" y="628.7" textLength="18.2" lengthAdjust="spacingAndGlyphs" class="st">CLM</text>
<text x="703.6" y="655.9" textLength="18.4" lengthAdjust="spacingAndGlyphs" class="st">MLD</text>
<text x="140.4" y="612.5" textLength="15.5" lengthAdjust="spacingAndGlyphs" class="st">SPL</text>
<text x="519.2" y="665.1" textLength="19.2" lengthAdjust="spacingAndGlyphs" class="st">MGD</text>
<text x="463.3" y="693.2" textLength="18.8" lengthAdjust="spacingAndGlyphs" class="st">NRB</text>
<text x="478.3" y="737.4" textLength="18.8" lengthAdjust="spacingAndGlyphs" class="st">DRS</text>
<text x="545.5" y="782.7" textLength="18.4" lengthAdjust="spacingAndGlyphs" class="st">ANN</text>
<text x="424.6" y="828.0" textLength="18.8" lengthAdjust="spacingAndGlyphs" class="st">HRR</text>
<text x="336.1" y="914.0" textLength="17.7" lengthAdjust="spacingAndGlyphs" class="st">LSK</text>
<text x="341.2" y="959.5" textLength="17.0" lengthAdjust="spacingAndGlyphs" class="st">CPT</text>
</g>
<rect x="53.1" y="191.1" width="794.0" height="817.8" fill="none" stroke="#000" stroke-width="1.9"/>
<path d="M52.2,191.1h-5M52.2,272.9h-5M52.2,354.7h-5M52.2,436.4h-5M52.2,518.2h-5M52.2,600.0h-5M52.2,681.8h-5M52.2,763.6h-5M52.2,845.3h-5M52.2,927.1h-5M52.2,1008.9h-5M86.2,1009.8v5M152.3,1009.8v5M218.5,1009.8v5M284.7,1009.8v5M350.9,1009.8v5M417.0,1009.8v5M483.2,1009.8v5M549.3,1009.8v5M615.5,1009.8v5M681.7,1009.8v5M747.9,1009.8v5M814.0,1009.8v5" stroke="#000" stroke-width="1.1" fill="none"/>
<text x="16.0" y="197.2" textLength="27.2" lengthAdjust="spacingAndGlyphs" class="ax">60N</text>
<text x="16.0" y="279.0" textLength="27.2" lengthAdjust="spacingAndGlyphs" class="ax">50N</text>
<text x="16.0" y="360.8" textLength="27.2" lengthAdjust="spacingAndGlyphs" class="ax">40N</text>
<text x="16.0" y="442.5" textLength="27.2" lengthAdjust="spacingAndGlyphs" class="ax">30N</text>
<text x="16.0" y="524.3" textLength="27.2" lengthAdjust="spacingAndGlyphs" class="ax">20N</text>
<text x="16.0" y="606.1" textLength="27.2" lengthAdjust="spacingAndGlyphs" class="ax">10N</text>
<text x="23.7" y="687.9" textLength="19.5" lengthAdjust="spacingAndGlyphs" class="ax">EQ</text>
<text x="16.0" y="769.7" textLength="27.2" lengthAdjust="spacingAndGlyphs" class="ax">10S</text>
<text x="16.0" y="851.4" textLength="27.2" lengthAdjust="spacingAndGlyphs" class="ax">20S</text>
<text x="16.0" y="933.2" textLength="27.2" lengthAdjust="spacingAndGlyphs" class="ax">30S</text>
<text x="16.0" y="1015.0" textLength="27.2" lengthAdjust="spacingAndGlyphs" class="ax">40S</text>
<text x="71.7" y="1029.8" textLength="29.0" lengthAdjust="spacingAndGlyphs" class="ax">20W</text>
<text x="137.8" y="1029.8" textLength="29.0" lengthAdjust="spacingAndGlyphs" class="ax">10W</text>
<text x="214.0" y="1029.8" textLength="9.0" lengthAdjust="spacingAndGlyphs" class="ax">0</text>
<text x="271.4" y="1029.8" textLength="26.5" lengthAdjust="spacingAndGlyphs" class="ax">10E</text>
<text x="337.6" y="1029.8" textLength="26.5" lengthAdjust="spacingAndGlyphs" class="ax">20E</text>
<text x="403.8" y="1029.8" textLength="26.5" lengthAdjust="spacingAndGlyphs" class="ax">30E</text>
<text x="469.9" y="1029.8" textLength="26.5" lengthAdjust="spacingAndGlyphs" class="ax">40E</text>
<text x="536.1" y="1029.8" textLength="26.5" lengthAdjust="spacingAndGlyphs" class="ax">50E</text>
<text x="602.3" y="1029.8" textLength="26.5" lengthAdjust="spacingAndGlyphs" class="ax">60E</text>
<text x="668.4" y="1029.8" textLength="26.5" lengthAdjust="spacingAndGlyphs" class="ax">70E</text>
<text x="734.6" y="1029.8" textLength="26.5" lengthAdjust="spacingAndGlyphs" class="ax">80E</text>
<text x="800.8" y="1029.8" textLength="26.5" lengthAdjust="spacingAndGlyphs" class="ax">90E</text>
<path d="M134.6,1063.0L94.2,1074.0L134.6,1085.0Z" fill="#3c0aa0" stroke="#000" stroke-width="1"/>
<rect x="134.6" y="1063.0" width="40.0" height="22.0" fill="#0000cd" stroke="#000" stroke-width="1"/>
<rect x="174.6" y="1063.0" width="40.0" height="22.0" fill="#0a3cff" stroke="#000" stroke-width="1"/>
<rect x="214.7" y="1063.0" width="40.0" height="22.0" fill="#057dff" stroke="#000" stroke-width="1"/>
<rect x="254.8" y="1063.0" width="40.0" height="22.0" fill="#1ea5ff" stroke="#000" stroke-width="1"/>
<rect x="294.8" y="1063.0" width="40.0" height="22.0" fill="#55d2ff" stroke="#000" stroke-width="1"/>
<rect x="334.9" y="1063.0" width="40.0" height="22.0" fill="#82f0ff" stroke="#000" stroke-width="1"/>
<rect x="374.9" y="1063.0" width="40.0" height="22.0" fill="#ffffff" stroke="#000" stroke-width="1"/>
<rect x="414.9" y="1063.0" width="40.0" height="22.0" fill="#fffaaa" stroke="#000" stroke-width="1"/>
<rect x="455.0" y="1063.0" width="40.0" height="22.0" fill="#ffe878" stroke="#000" stroke-width="1"/>
<rect x="495.0" y="1063.0" width="40.0" height="22.0" fill="#ffc03c" stroke="#000" stroke-width="1"/>
<rect x="535.1" y="1063.0" width="40.0" height="22.0" fill="#ffa000" stroke="#000" stroke-width="1"/>
<rect x="575.1" y="1063.0" width="40.0" height="22.0" fill="#ff6000" stroke="#000" stroke-width="1"/>
<rect x="615.2" y="1063.0" width="40.0" height="22.0" fill="#ff3200" stroke="#000" stroke-width="1"/>
<rect x="655.2" y="1063.0" width="40.0" height="22.0" fill="#e11400" stroke="#000" stroke-width="1"/>
<rect x="695.3" y="1063.0" width="40.0" height="22.0" fill="#c00000" stroke="#000" stroke-width="1"/>
<rect x="735.4" y="1063.0" width="40.0" height="22.0" fill="#a50000" stroke="#000" stroke-width="1"/>
<path d="M775.4,1063.0L816.4,1074.0L775.4,1085.0Z" fill="#000000" stroke="#000" stroke-width="1"/>
<text x="115.9" y="1106.2" textLength="38.6" lengthAdjust="spacingAndGlyphs" class="cb">−35</text>
<text x="155.9" y="1106.2" textLength="38.6" lengthAdjust="spacingAndGlyphs" class="cb">−30</text>
<text x="196.0" y="1106.2" textLength="38.6" lengthAdjust="spacingAndGlyphs" class="cb">−25</text>
<text x="236.0" y="1106.2" textLength="38.6" lengthAdjust="spacingAndGlyphs" class="cb">−20</text>
<text x="276.1" y="1106.2" textLength="38.6" lengthAdjust="spacingAndGlyphs" class="cb">−15</text>
<text x="316.2" y="1106.2" textLength="38.6" lengthAdjust="spacingAndGlyphs" class="cb">−10</text>
<text x="363.3" y="1106.2" textLength="25.6" lengthAdjust="spacingAndGlyphs" class="cb">−5</text>
<text x="410.3" y="1106.2" textLength="10.5" lengthAdjust="spacingAndGlyphs" class="cb">0</text>
<text x="450.4" y="1106.2" textLength="10.5" lengthAdjust="spacingAndGlyphs" class="cb">5</text>
<text x="485.1" y="1106.2" textLength="21.0" lengthAdjust="spacingAndGlyphs" class="cb">10</text>
<text x="525.2" y="1106.2" textLength="21.0" lengthAdjust="spacingAndGlyphs" class="cb">15</text>
<text x="565.2" y="1106.2" textLength="21.0" lengthAdjust="spacingAndGlyphs" class="cb">20</text>
<text x="605.3" y="1106.2" textLength="21.0" lengthAdjust="spacingAndGlyphs" class="cb">25</text>
<text x="645.4" y="1106.2" textLength="21.0" lengthAdjust="spacingAndGlyphs" class="cb">30</text>
<text x="685.4" y="1106.2" textLength="21.0" lengthAdjust="spacingAndGlyphs" class="cb">35</text>
<text x="725.5" y="1106.2" textLength="21.0" lengthAdjust="spacingAndGlyphs" class="cb">40</text>
<text x="765.5" y="1106.2" textLength="21.0" lengthAdjust="spacingAndGlyphs" class="cb">45</text>
<text x="338.3" y="119.5" textLength="66.1" lengthAdjust="spacingAndGlyphs" class="t1" fill="#8200dc">NCEP</text><text x="424.1" y="119.5" textLength="46.5" lengthAdjust="spacingAndGlyphs" class="t1" fill="#8200dc">GFS</text><text x="489.6" y="119.5" textLength="125.8" lengthAdjust="spacingAndGlyphs" class="t1" fill="#8200dc">GUIDANCE</text>
<text x="285.4" y="152.3" textLength="103.9" lengthAdjust="spacingAndGlyphs" class="t1" fill="#f00082">MAXIMUM</text><text x="404.4" y="152.3" textLength="156.3" lengthAdjust="spacingAndGlyphs" class="t1" fill="#f00082">TEMPERATURE</text><text x="576.5" y="152.3" textLength="52.2" lengthAdjust="spacingAndGlyphs" class="t1" fill="#f00082">(DEG</text><text x="644.5" y="152.3" textLength="23.8" lengthAdjust="spacingAndGlyphs" class="t1" fill="#f00082">C)</text>
<text x="153.2" y="183.9" textLength="66.1" lengthAdjust="spacingAndGlyphs" class="t2" fill="#000">VALID</text><text x="237.5" y="183.9" textLength="47.9" lengthAdjust="spacingAndGlyphs" class="t2" fill="#000">For:</text><text x="303.2" y="183.9" textLength="152.2" lengthAdjust="spacingAndGlyphs" class="t2" fill="#000">05MAR2026</text><text x="474.5" y="183.9" textLength="25.0" lengthAdjust="spacingAndGlyphs" class="t2" fill="#000">at</text><text x="514.6" y="183.9" textLength="66.8" lengthAdjust="spacingAndGlyphs" class="t2" fill="#000">0830</text><text x="598.4" y="183.9" textLength="35.9" lengthAdjust="spacingAndGlyphs" class="t2" fill="#000">IST</text><text x="651.3" y="183.9" textLength="83.1" lengthAdjust="spacingAndGlyphs" class="t2" fill="#000">/0300</text><text x="754.1" y="183.9" textLength="46.4" lengthAdjust="spacingAndGlyphs" class="t2" fill="#000">UTC</text>
<text x="247.2" y="1057.0" textLength="74.8" lengthAdjust="spacingAndGlyphs" class="t3" fill="#1e3cff">INITIAL</text><text x="344.8" y="1057.0" textLength="361.2" lengthAdjust="spacingAndGlyphs" class="t3" fill="#1e3cff">CONDITIONS:00Z25FEB2026</text>
<rect x="5.1" y="1031" width="95.8" height="21.7" fill="#2846ff"/>
<circle cx="15.7" cy="1041.8" r="7.7" fill="none" stroke="#fff" stroke-width="3"/>
<path d="M18.6,1039.2A3.9,3.9 0 1 0 18.6,1044.4" fill="none" stroke="#e4e8ff" stroke-width="1.1"/>
<text x="30.4" y="1047" textLength="66.3" lengthAdjust="spacingAndGlyphs" class="wc" fill="#eef0ff">WEACLIM</text>
</svg>
</body></html>
